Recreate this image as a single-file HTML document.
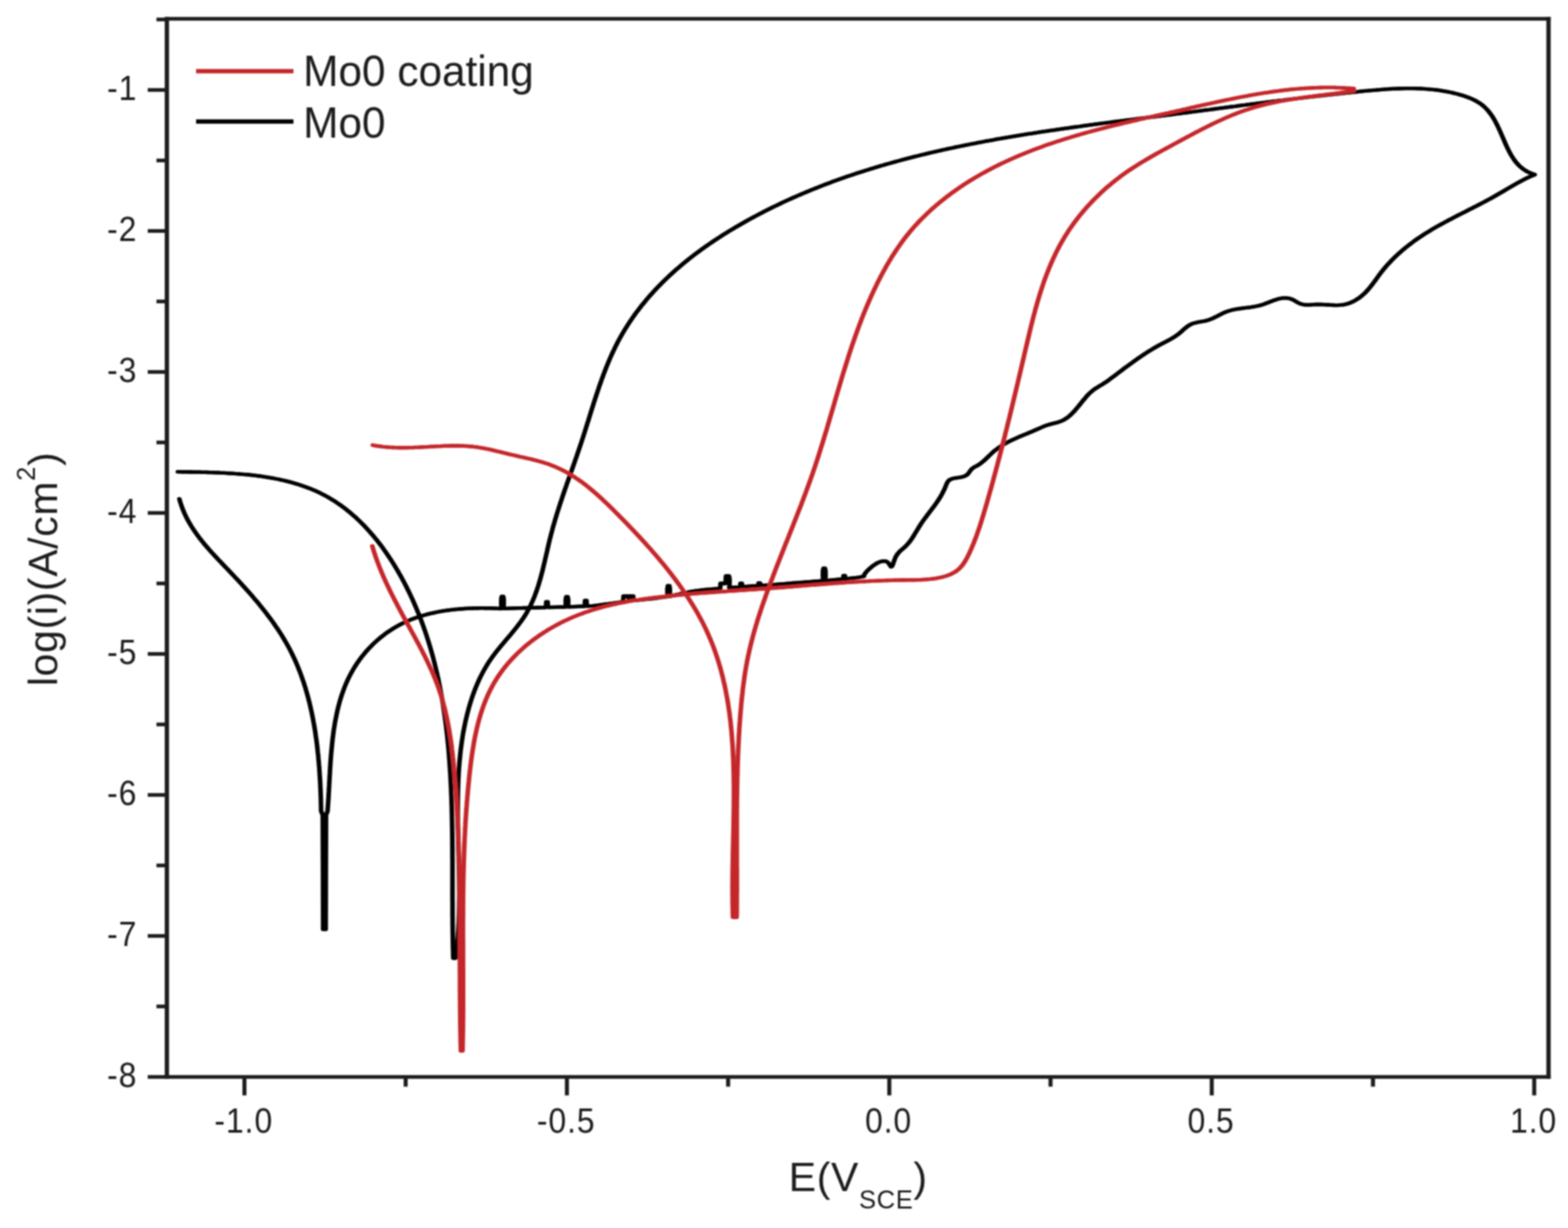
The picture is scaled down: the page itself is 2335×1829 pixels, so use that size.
<!DOCTYPE html>
<html><head><meta charset="utf-8"><title>Polarization curves</title>
<style>html,body{margin:0;padding:0;background:#fff;width:2335px;height:1829px;overflow:hidden}svg{display:block}</style>
</head><body>
<svg width="2335" height="1829" viewBox="0 0 2335 1829">
<style>
.tl{font-family:"Liberation Sans",Arial,sans-serif;font-size:51px;letter-spacing:1.5px;fill:#1a1a1a}
.lg{font-family:"Liberation Sans",Arial,sans-serif;font-size:64px;letter-spacing:0px;fill:#1a1a1a}
.at{font-family:"Liberation Sans",Arial,sans-serif;font-size:61px;fill:#1a1a1a}
</style>
<defs><filter id="soft" x="0" y="0" width="100%" height="100%" filterUnits="userSpaceOnUse"><feGaussianBlur stdDeviation="1"/></filter></defs>
<rect width="100%" height="100%" fill="#ffffff"/>
<g filter="url(#soft)">
<g fill="none" stroke="#000000" stroke-width="5.3" stroke-linejoin="round" stroke-linecap="round"><path id="c000000" transform="translate(-0.75 0)" d="M267.1 743.1 L267.9 746.1 L268.8 749.0 L269.8 751.9 L270.8 754.8 L271.8 757.6 L273.0 760.4 L274.1 763.2 L275.3 765.9 L276.6 768.6 L277.9 771.3 L279.3 773.9 L280.7 776.5 L282.2 779.1 L283.7 781.6 L285.2 784.1 L286.8 786.6 L288.4 789.1 L290.1 791.6 L291.8 794.0 L293.5 796.4 L295.3 798.8 L297.0 801.2 L298.9 803.5 L300.7 805.8 L302.6 808.2 L304.5 810.5 L306.4 812.7 L308.4 815.0 L310.3 817.3 L312.3 819.5 L314.3 821.8 L316.3 824.0 L318.4 826.2 L320.4 828.4 L322.5 830.6 L324.5 832.8 L326.6 835.0 L328.7 837.2 L330.8 839.4 L332.9 841.6 L335.0 843.8 L337.1 846.0 L339.2 848.2 L341.3 850.4 L343.4 852.6 L345.5 854.8 L347.6 857.0 L349.7 859.3 L351.8 861.5 L353.9 863.7 L355.9 865.9 L358.0 868.2 L360.1 870.4 L362.1 872.7 L364.2 874.9 L366.2 877.2 L368.2 879.4 L370.3 881.7 L372.3 884.0 L374.3 886.3 L376.3 888.6 L378.2 890.9 L380.2 893.2 L382.2 895.5 L384.1 897.8 L386.0 900.2 L387.9 902.5 L389.8 904.9 L391.7 907.2 L393.6 909.6 L395.5 912.0 L397.3 914.4 L399.1 916.8 L400.9 919.2 L402.7 921.6 L404.5 924.0 L406.3 926.5 L408.0 928.9 L409.7 931.4 L411.4 933.9 L413.1 936.3 L414.7 938.8 L416.4 941.3 L418.0 943.9 L419.6 946.4 L421.1 948.9 L422.7 951.5 L424.2 954.1 L425.7 956.6 L427.2 959.2 L428.6 961.8 L430.1 964.5 L431.5 967.1 L432.8 969.8 L434.2 972.4 L435.5 975.1 L436.8 977.8 L438.1 980.5 L439.3 983.2 L440.5 985.9 L441.7 988.7 L442.9 991.4 L444.0 994.2 L445.1 997.0 L446.2 999.8 L447.3 1002.6 L448.3 1005.4 L449.3 1008.2 L450.3 1011.0 L451.3 1013.9 L452.3 1016.7 L453.2 1019.6 L454.1 1022.5 L455.0 1025.3 L455.8 1028.2 L456.7 1031.1 L457.5 1034.0 L458.3 1037.0 L459.1 1039.9 L459.8 1042.8 L460.6 1045.8 L461.3 1048.7 L462.0 1051.6 L462.7 1054.6 L463.3 1057.6 L464.0 1060.5 L464.6 1063.5 L465.2 1066.5 L465.8 1069.5 L466.4 1072.5 L466.9 1075.5 L467.5 1078.5 L468.0 1081.5 L468.5 1084.5 L469.0 1087.5 L469.5 1090.5 L469.9 1093.5 L470.3 1096.6 L470.8 1099.6 L471.2 1102.6 L471.6 1105.6 L472.0 1108.7 L472.3 1111.7 L472.7 1114.7 L473.0 1117.8 L473.3 1120.8 L473.7 1123.9 L474.0 1126.9 L474.2 1129.9 L474.5 1133.0 L474.8 1136.0 L475.0 1139.0 L475.3 1142.1 L475.5 1145.1 L475.7 1148.1 L475.9 1151.2 L476.1 1154.2 L476.3 1157.2 L476.5 1160.2 L476.7 1163.2 L476.8 1166.3 L477.0 1169.3 L477.1 1172.3 L477.2 1175.3 L477.4 1178.3 L477.5 1181.3 L477.6 1184.3 L477.7 1187.3 L477.8 1190.2 L477.9 1193.2 L477.9 1196.2 L478.0 1199.1 L478.1 1202.1 L478.1 1205.1 L478.2 1208.0 L480.6 1214.0 L481.0 1300.0 L481.2 1384.0 L485.0 1384.0 L485.2 1300.0 L485.5 1214.0 L487.8 1208.0 L488.0 1205.2 L488.2 1202.3 L488.4 1199.4 L488.6 1196.5 L488.8 1193.6 L489.0 1190.7 L489.2 1187.8 L489.3 1184.8 L489.5 1181.9 L489.7 1178.9 L489.8 1175.9 L490.0 1172.9 L490.2 1169.9 L490.3 1166.9 L490.5 1163.9 L490.7 1160.8 L490.8 1157.8 L491.0 1154.8 L491.2 1151.7 L491.3 1148.6 L491.5 1145.6 L491.7 1142.5 L491.9 1139.4 L492.1 1136.3 L492.3 1133.2 L492.6 1130.1 L492.8 1127.1 L493.0 1124.0 L493.3 1120.9 L493.6 1117.8 L493.9 1114.7 L494.2 1111.6 L494.5 1108.5 L494.8 1105.4 L495.1 1102.3 L495.5 1099.2 L495.9 1096.1 L496.3 1093.1 L496.7 1090.0 L497.1 1086.9 L497.6 1083.9 L498.1 1080.8 L498.6 1077.8 L499.1 1074.8 L499.7 1071.7 L500.3 1068.7 L500.9 1065.7 L501.5 1062.7 L502.2 1059.7 L502.8 1056.8 L503.6 1053.8 L504.3 1050.9 L505.1 1047.9 L505.9 1045.0 L506.7 1042.1 L507.6 1039.2 L508.5 1036.4 L509.5 1033.5 L510.5 1030.7 L511.5 1027.9 L512.5 1025.1 L513.6 1022.3 L514.8 1019.5 L515.9 1016.8 L517.1 1014.1 L518.4 1011.4 L519.7 1008.7 L521.0 1006.1 L522.4 1003.5 L523.8 1000.9 L525.3 998.3 L526.8 995.7 L528.3 993.2 L529.9 990.7 L531.5 988.3 L533.2 985.8 L534.9 983.4 L536.6 981.0 L538.4 978.7 L540.2 976.4 L542.1 974.1 L544.0 971.8 L545.9 969.6 L547.9 967.4 L549.9 965.2 L552.0 963.1 L554.0 961.0 L556.1 958.9 L558.3 956.9 L560.5 954.9 L562.7 952.9 L564.9 951.0 L567.2 949.1 L569.5 947.3 L571.9 945.5 L574.2 943.7 L576.6 942.0 L579.1 940.3 L581.6 938.7 L584.1 937.1 L586.6 935.5 L589.1 934.0 L591.7 932.5 L594.3 931.1 L597.0 929.7 L599.6 928.4 L602.3 927.1 L605.1 925.8 L607.8 924.6 L610.6 923.4 L613.4 922.3 L616.2 921.2 L619.0 920.2 L621.9 919.2 L624.8 918.3 L627.7 917.4 L630.6 916.5 L633.6 915.7 L636.5 914.9 L639.5 914.1 L642.5 913.4 L645.5 912.8 L648.5 912.1 L651.5 911.5 L654.5 910.9 L657.6 910.4 L660.6 909.9 L663.7 909.4 L666.7 909.0 L669.8 908.6 L672.9 908.2 L675.9 907.9 L679.0 907.5 L682.1 907.3 L685.2 907.0 L688.3 906.8 L691.4 906.5 L694.4 906.4 L697.5 906.2 L700.6 906.1 L703.6 906.0 L706.7 905.9 L709.8 905.8 L712.8 905.8 L715.8 905.7 L718.9 905.7 L721.9 905.8 L724.9 905.8 L727.9 905.8 L730.9 905.9 L733.8 906.0 L736.8 906.1 L739.7 906.2 L742.6 906.4 L745.5 906.5 L746.7 906.4 L746.6 903.8 L746.4 898.0 L746.5 891.9 L747.2 888.5 L749.4 888.5 L750.1 891.9 L750.2 898.0 L750.0 903.8 L749.9 906.4 L751.1 906.4 L753.2 906.3 L758.0 906.1 L763.8 905.9 L767.0 905.8 L771.1 905.7 L775.9 905.6 L781.1 905.5 L786.5 905.3 L791.9 905.2 L797.0 905.1 L801.8 905.0 L805.8 904.9 L809.0 904.9 L811.1 904.8 L811.8 904.8 L812.9 904.7 L813.4 896.5 L815.6 896.5 L816.1 904.7 L817.0 904.6 L841.6 904.0 L842.7 903.9 L842.5 900.3 L842.4 893.5 L843.2 889.0 L845.4 889.0 L846.2 893.5 L846.1 900.3 L845.9 903.9 L847.0 903.8 L869.8 903.0 L870.7 902.9 L871.2 894.5 L873.4 894.5 L873.9 902.9 L874.8 902.8 L883.1 902.3 L887.1 901.9 L891.8 901.3 L896.9 900.7 L902.0 900.0 L906.9 899.3 L911.9 898.6 L917.5 897.8 L922.7 897.0 L926.5 896.4 L928.0 896.2 L928.5 888.0 L936.0 888.0 L936.5 894.5 L937.0 888.0 L943.0 888.0 L943.5 894.2 L945.1 894.1 L949.3 893.8 L955.0 893.3 L961.1 892.7 L966.5 892.2 L971.4 891.6 L977.2 890.8 L982.9 890.0 L988.0 889.3 L991.6 888.8 L993.0 888.6 L994.1 888.4 L993.9 884.6 L993.8 877.3 L994.6 872.5 L996.8 872.5 L997.6 877.3 L997.5 884.6 L997.3 888.4 L998.4 888.0 L999.4 887.8 L1002.1 887.1 L1006.1 886.1 L1011.0 885.0 L1016.6 883.7 L1022.2 882.5 L1027.7 881.4 L1032.6 880.5 L1036.8 879.9 L1041.6 879.3 L1046.8 878.7 L1052.1 878.2 L1057.3 877.7 L1062.1 877.3 L1066.3 877.0 L1069.6 876.7 L1071.7 876.6 L1072.5 876.5 L1073.0 869.0 L1080.5 869.0 L1081.0 858.0 L1085.5 858.0 L1086.4 861.6 L1086.5 867.5 L1086.2 873.0 L1086.0 875.5 L1101.2 874.3 L1102.1 874.1 L1102.6 869.0 L1104.8 869.0 L1105.3 874.1 L1106.2 873.9 L1128.2 872.3 L1129.1 872.1 L1129.6 868.5 L1131.8 868.5 L1132.3 872.1 L1133.2 871.9 L1135.3 871.8 L1140.2 871.6 L1146.4 871.2 L1149.2 871.0 L1152.6 870.8 L1156.5 870.5 L1160.8 870.1 L1165.4 869.8 L1170.2 869.4 L1175.3 869.0 L1180.4 868.5 L1185.5 868.1 L1190.6 867.7 L1195.5 867.3 L1200.2 866.9 L1204.5 866.6 L1208.5 866.3 L1212.1 866.0 L1215.0 865.8 L1217.4 865.6 L1224.6 865.2 L1225.8 865.1 L1225.6 862.4 L1225.4 856.4 L1225.5 850.1 L1226.3 846.5 L1228.5 846.5 L1229.3 850.1 L1229.4 856.4 L1229.2 862.4 L1229.0 865.1 L1230.2 864.9 L1254.7 862.5 L1255.6 862.3 L1256.1 857.5 L1258.3 857.5 L1258.8 862.3 L1259.7 862.0 L1262.5 861.8 L1268.4 861.2 L1274.3 860.6 L1279.4 859.8 L1284.4 858.9 L1286.6 858.5 L1286.6 857.0 L1287.3 855.5 L1288.5 853.7 L1290.3 851.5 L1292.6 849.1 L1295.2 846.7 L1298.1 844.2 L1301.2 841.9 L1304.5 839.7 L1307.8 837.9 L1311.0 836.6 L1314.2 835.8 L1317.1 835.6 L1319.8 836.1 L1322.1 837.6 L1324.0 839.9 L1325.5 842.4 L1326.8 844.0 L1327.9 843.9 L1329.0 842.2 L1330.1 839.4 L1331.3 835.9 L1332.6 832.3 L1334.1 828.9 L1335.9 826.0 L1337.9 823.5 L1339.9 821.3 L1342.1 819.3 L1344.3 817.4 L1346.5 815.5 L1348.6 813.6 L1350.6 811.5 L1352.6 809.3 L1354.4 807.1 L1356.2 804.7 L1357.9 802.2 L1359.5 799.7 L1361.1 797.2 L1362.7 794.5 L1364.3 791.9 L1365.9 789.3 L1367.5 786.6 L1369.1 784.0 L1370.7 781.5 L1372.4 778.9 L1374.1 776.4 L1375.9 774.0 L1377.7 771.5 L1379.5 769.1 L1381.3 766.7 L1383.1 764.3 L1384.9 761.9 L1386.7 759.6 L1388.5 757.2 L1390.3 754.8 L1392.1 752.4 L1393.8 750.0 L1395.5 747.5 L1397.2 745.1 L1398.8 742.5 L1400.4 740.0 L1401.9 737.4 L1403.3 734.8 L1404.7 732.0 L1406.1 729.3 L1407.3 726.4 L1408.5 723.5 L1409.6 720.7 L1411.0 718.0 L1412.7 715.8 L1415.0 714.2 L1417.7 713.1 L1420.7 712.3 L1423.9 711.8 L1427.2 711.3 L1430.4 710.8 L1433.5 710.2 L1436.4 709.2 L1439.0 707.9 L1441.2 706.1 L1443.0 703.8 L1444.8 701.3 L1446.6 698.9 L1448.9 696.9 L1451.4 695.4 L1454.1 694.1 L1456.8 692.6 L1459.3 691.0 L1461.6 689.2 L1463.9 687.3 L1466.2 685.4 L1468.3 683.3 L1470.5 681.3 L1472.6 679.2 L1474.8 677.1 L1476.9 675.0 L1479.2 673.0 L1481.4 671.1 L1483.8 669.3 L1486.2 667.5 L1488.6 665.8 L1491.1 664.2 L1493.7 662.6 L1496.2 661.1 L1498.8 659.6 L1501.5 658.2 L1504.1 656.9 L1506.8 655.5 L1509.5 654.3 L1512.2 653.1 L1514.9 651.9 L1517.6 650.7 L1520.4 649.5 L1523.1 648.4 L1525.9 647.3 L1528.7 646.1 L1531.4 645.0 L1534.2 643.8 L1537.0 642.7 L1539.7 641.5 L1542.5 640.2 L1545.3 639.0 L1548.0 637.8 L1550.8 636.6 L1553.6 635.4 L1556.4 634.3 L1559.3 633.3 L1562.1 632.4 L1565.0 631.6 L1568.0 630.8 L1570.9 630.1 L1573.8 629.4 L1576.6 628.5 L1579.4 627.6 L1582.1 626.4 L1584.7 625.1 L1587.2 623.5 L1589.6 621.8 L1592.0 620.0 L1594.2 618.0 L1596.4 615.9 L1598.6 613.7 L1600.7 611.4 L1602.7 609.0 L1604.7 606.6 L1606.7 604.2 L1608.7 601.8 L1610.6 599.4 L1612.5 597.0 L1614.4 594.7 L1616.4 592.4 L1618.3 590.1 L1620.3 587.9 L1622.4 585.9 L1624.6 583.9 L1626.8 582.0 L1629.2 580.2 L1631.6 578.5 L1634.2 576.9 L1636.7 575.3 L1639.4 573.8 L1642.0 572.2 L1644.5 570.6 L1647.0 569.0 L1649.5 567.3 L1651.9 565.5 L1654.3 563.7 L1656.7 561.9 L1659.1 560.1 L1661.5 558.3 L1663.9 556.5 L1666.3 554.7 L1668.7 552.9 L1671.1 551.1 L1673.5 549.2 L1675.9 547.4 L1678.4 545.6 L1680.8 543.8 L1683.2 542.1 L1685.7 540.3 L1688.1 538.5 L1690.6 536.8 L1693.0 535.0 L1695.5 533.3 L1698.0 531.6 L1700.5 529.9 L1703.0 528.2 L1705.5 526.6 L1708.0 524.9 L1710.6 523.3 L1713.1 521.7 L1715.7 520.2 L1718.3 518.6 L1720.9 517.1 L1723.5 515.6 L1726.1 514.2 L1728.8 512.7 L1731.4 511.3 L1734.1 510.0 L1736.8 508.6 L1739.5 507.2 L1742.1 505.8 L1744.7 504.3 L1747.3 502.7 L1749.9 501.1 L1752.3 499.4 L1754.8 497.6 L1757.1 495.7 L1759.4 493.7 L1761.7 491.6 L1764.0 489.6 L1766.3 487.7 L1768.6 485.9 L1771.1 484.3 L1773.7 482.9 L1776.4 481.8 L1779.2 481.0 L1782.1 480.3 L1785.0 479.7 L1788.0 479.2 L1791.0 478.7 L1794.0 478.1 L1797.0 477.4 L1799.9 476.5 L1802.7 475.5 L1805.5 474.3 L1808.3 473.0 L1811.0 471.7 L1813.7 470.3 L1816.4 468.9 L1819.1 467.5 L1821.8 466.2 L1824.5 465.0 L1827.3 463.9 L1830.1 463.0 L1832.9 462.2 L1835.7 461.5 L1838.6 460.9 L1841.5 460.3 L1844.4 459.9 L1847.4 459.5 L1850.3 459.1 L1853.3 458.7 L1856.3 458.3 L1859.2 458.0 L1862.2 457.6 L1865.2 457.1 L1868.2 456.6 L1871.2 456.0 L1874.2 455.4 L1877.1 454.6 L1880.1 453.7 L1883.0 452.7 L1885.9 451.6 L1888.9 450.5 L1891.8 449.3 L1894.7 448.2 L1897.6 447.1 L1900.5 446.2 L1903.4 445.3 L1906.2 444.6 L1909.1 444.1 L1912.0 443.8 L1914.9 443.8 L1917.8 444.1 L1920.7 444.7 L1923.6 445.6 L1926.5 447.0 L1929.4 448.7 L1932.3 450.5 L1935.3 452.0 L1938.2 453.0 L1941.1 453.7 L1944.1 454.0 L1947.0 454.1 L1949.9 454.1 L1952.9 453.9 L1955.8 453.7 L1958.8 453.5 L1961.8 453.5 L1964.8 453.5 L1967.8 453.5 L1970.8 453.7 L1973.8 453.9 L1976.9 454.0 L1979.9 454.2 L1982.9 454.4 L1985.9 454.5 L1988.9 454.6 L1991.9 454.6 L1994.9 454.4 L1997.8 454.2 L2000.8 453.8 L2003.7 453.2 L2006.6 452.4 L2009.5 451.5 L2012.3 450.3 L2015.1 449.0 L2017.8 447.6 L2020.4 446.0 L2023.0 444.3 L2025.5 442.5 L2027.9 440.6 L2030.2 438.6 L2032.4 436.6 L2034.5 434.4 L2036.6 432.2 L2038.5 429.9 L2040.4 427.6 L2042.3 425.3 L2044.1 422.9 L2045.9 420.5 L2047.7 418.1 L2049.4 415.7 L2051.2 413.2 L2052.9 410.8 L2054.7 408.4 L2056.5 406.0 L2058.4 403.6 L2060.3 401.3 L2062.2 399.0 L2064.1 396.7 L2066.1 394.5 L2068.1 392.3 L2070.2 390.1 L2072.2 387.9 L2074.3 385.8 L2076.5 383.7 L2078.6 381.6 L2080.8 379.6 L2083.0 377.5 L2085.3 375.6 L2087.5 373.6 L2089.8 371.6 L2092.1 369.7 L2094.4 367.8 L2096.8 366.0 L2099.2 364.1 L2101.6 362.3 L2104.0 360.5 L2106.4 358.7 L2108.8 357.0 L2111.3 355.3 L2113.8 353.6 L2116.3 351.9 L2118.8 350.3 L2121.3 348.6 L2123.9 347.0 L2126.4 345.5 L2129.0 343.9 L2131.5 342.3 L2134.1 340.8 L2136.7 339.3 L2139.3 337.8 L2142.0 336.3 L2144.6 334.9 L2147.2 333.4 L2149.9 332.0 L2152.5 330.5 L2155.2 329.1 L2157.8 327.7 L2160.5 326.3 L2163.2 324.9 L2165.8 323.5 L2168.5 322.1 L2171.2 320.7 L2173.9 319.4 L2176.6 318.0 L2179.3 316.6 L2182.0 315.3 L2184.7 313.9 L2187.3 312.5 L2190.0 311.2 L2192.7 309.8 L2195.4 308.4 L2198.1 307.1 L2200.8 305.7 L2203.5 304.3 L2206.1 302.9 L2208.8 301.5 L2211.5 300.1 L2214.1 298.7 L2216.8 297.2 L2219.4 295.8 L2222.1 294.4 L2224.7 292.9 L2227.3 291.4 L2229.9 289.9 L2232.5 288.4 L2235.1 286.9 L2237.7 285.4 L2240.3 283.9 L2242.9 282.3 L2245.5 280.8 L2248.1 279.3 L2250.7 277.8 L2253.3 276.3 L2255.9 274.8 L2258.5 273.3 L2261.1 271.8 L2263.8 270.4 L2266.4 269.0 L2269.1 267.6 L2271.8 266.2 L2274.5 264.9 L2277.2 263.6 L2279.9 262.4 L2282.7 261.2 L2285.5 260.0 L2282.3 259.0 L2279.2 257.8 L2276.4 256.6 L2273.6 255.1 L2271.0 253.6 L2268.5 251.9 L2266.2 250.1 L2264.0 248.3 L2261.9 246.3 L2259.9 244.2 L2258.0 242.0 L2256.1 239.7 L2254.4 237.4 L2252.8 234.9 L2251.2 232.4 L2249.7 229.9 L2248.3 227.3 L2246.9 224.6 L2245.5 221.9 L2244.2 219.2 L2242.9 216.4 L2241.7 213.6 L2240.4 210.7 L2239.2 207.9 L2238.0 205.0 L2236.8 202.2 L2235.5 199.3 L2234.3 196.5 L2233.0 193.7 L2231.7 190.8 L2230.4 188.1 L2229.0 185.3 L2227.6 182.6 L2226.2 179.9 L2224.7 177.3 L2223.1 174.7 L2221.5 172.2 L2219.8 169.8 L2218.0 167.5 L2216.2 165.2 L2214.3 163.0 L2212.3 161.0 L2210.3 159.0 L2208.1 157.1 L2205.9 155.4 L2203.5 153.7 L2201.1 152.2 L2198.6 150.7 L2196.1 149.4 L2193.5 148.1 L2190.8 146.9 L2188.1 145.8 L2185.3 144.7 L2182.6 143.7 L2179.8 142.8 L2176.9 141.9 L2174.1 141.1 L2171.3 140.3 L2168.4 139.5 L2165.5 138.8 L2162.7 138.1 L2159.8 137.5 L2156.9 136.9 L2154.0 136.3 L2151.1 135.8 L2148.1 135.3 L2145.2 134.8 L2142.3 134.4 L2139.3 134.0 L2136.4 133.7 L2133.4 133.3 L2130.4 133.1 L2127.5 132.8 L2124.5 132.6 L2121.5 132.3 L2118.5 132.2 L2115.5 132.0 L2112.5 131.9 L2109.5 131.8 L2106.5 131.7 L2103.5 131.7 L2100.4 131.7 L2097.4 131.7 L2094.4 131.7 L2091.4 131.7 L2088.3 131.8 L2085.3 131.9 L2082.2 132.0 L2079.2 132.1 L2076.1 132.2 L2073.1 132.4 L2070.0 132.5 L2067.0 132.7 L2063.9 132.9 L2060.9 133.1 L2057.8 133.3 L2054.8 133.6 L2051.7 133.8 L2048.7 134.1 L2045.6 134.3 L2042.6 134.6 L2039.5 134.9 L2036.5 135.2 L2033.4 135.4 L2030.4 135.7 L2027.3 136.0 L2024.3 136.3 L2021.2 136.7 L2018.2 137.0 L2015.2 137.3 L2012.1 137.6 L2009.1 137.9 L2006.1 138.2 L2003.0 138.5 L2000.0 138.9 L1997.0 139.2 L1994.0 139.5 L1991.0 139.8 L1988.0 140.2 L1985.0 140.5 L1982.0 140.8 L1978.9 141.2 L1975.9 141.5 L1972.9 141.8 L1970.0 142.2 L1967.0 142.5 L1964.0 142.9 L1961.0 143.2 L1958.0 143.6 L1955.0 143.9 L1952.0 144.2 L1949.0 144.6 L1946.0 144.9 L1943.1 145.3 L1940.1 145.7 L1937.1 146.0 L1934.1 146.4 L1931.2 146.7 L1928.2 147.1 L1925.2 147.4 L1922.3 147.8 L1919.3 148.2 L1916.3 148.5 L1913.4 148.9 L1910.4 149.3 L1907.4 149.6 L1904.5 150.0 L1901.5 150.4 L1898.6 150.7 L1895.6 151.1 L1892.6 151.5 L1889.7 151.8 L1886.7 152.2 L1883.8 152.6 L1880.8 153.0 L1877.9 153.3 L1874.9 153.7 L1872.0 154.1 L1869.0 154.5 L1866.1 154.8 L1863.1 155.2 L1860.2 155.6 L1857.2 156.0 L1854.3 156.4 L1851.3 156.7 L1848.4 157.1 L1845.5 157.5 L1842.5 157.9 L1839.6 158.3 L1836.6 158.6 L1833.7 159.0 L1830.7 159.4 L1827.8 159.8 L1824.8 160.2 L1821.9 160.6 L1818.9 160.9 L1816.0 161.3 L1813.1 161.7 L1810.1 162.1 L1807.2 162.5 L1804.2 162.9 L1801.3 163.3 L1798.3 163.6 L1795.4 164.0 L1792.4 164.4 L1789.5 164.8 L1786.5 165.2 L1783.6 165.6 L1780.6 165.9 L1777.7 166.3 L1774.7 166.7 L1771.8 167.1 L1768.8 167.5 L1765.8 167.8 L1762.9 168.2 L1759.9 168.6 L1757.0 169.0 L1754.0 169.4 L1751.0 169.7 L1748.1 170.1 L1745.1 170.5 L1742.2 170.9 L1739.2 171.3 L1736.2 171.6 L1733.2 172.0 L1730.3 172.4 L1727.3 172.8 L1724.3 173.1 L1721.4 173.5 L1718.4 173.9 L1715.4 174.3 L1712.4 174.7 L1709.5 175.0 L1706.5 175.4 L1703.5 175.8 L1700.5 176.2 L1697.5 176.5 L1694.6 176.9 L1691.6 177.3 L1688.6 177.7 L1685.6 178.1 L1682.6 178.4 L1679.6 178.8 L1676.7 179.2 L1673.7 179.6 L1670.7 180.0 L1667.7 180.3 L1664.7 180.7 L1661.7 181.1 L1658.7 181.5 L1655.7 181.9 L1652.8 182.3 L1649.8 182.7 L1646.8 183.1 L1643.8 183.4 L1640.8 183.8 L1637.8 184.2 L1634.8 184.6 L1631.8 185.0 L1628.8 185.4 L1625.8 185.8 L1622.8 186.2 L1619.8 186.6 L1616.9 187.0 L1613.9 187.4 L1610.9 187.8 L1607.9 188.3 L1604.9 188.7 L1601.9 189.1 L1598.9 189.5 L1595.9 189.9 L1592.9 190.3 L1589.9 190.8 L1586.9 191.2 L1583.9 191.6 L1580.9 192.0 L1577.9 192.5 L1574.9 192.9 L1572.0 193.3 L1569.0 193.8 L1566.0 194.2 L1563.0 194.6 L1560.0 195.1 L1557.0 195.5 L1554.0 196.0 L1551.0 196.4 L1548.0 196.9 L1545.0 197.4 L1542.0 197.8 L1539.1 198.3 L1536.1 198.8 L1533.1 199.2 L1530.1 199.7 L1527.1 200.2 L1524.1 200.7 L1521.1 201.1 L1518.2 201.6 L1515.2 202.1 L1512.2 202.6 L1509.2 203.1 L1506.2 203.6 L1503.3 204.1 L1500.3 204.6 L1497.3 205.1 L1494.3 205.6 L1491.3 206.2 L1488.4 206.7 L1485.4 207.2 L1482.4 207.7 L1479.4 208.3 L1476.5 208.8 L1473.5 209.4 L1470.5 209.9 L1467.6 210.4 L1464.6 211.0 L1461.6 211.6 L1458.7 212.1 L1455.7 212.7 L1452.7 213.3 L1449.8 213.8 L1446.8 214.4 L1443.9 215.0 L1440.9 215.6 L1437.9 216.2 L1435.0 216.8 L1432.0 217.4 L1429.1 218.0 L1426.1 218.6 L1423.2 219.2 L1420.2 219.9 L1417.3 220.5 L1414.3 221.1 L1411.4 221.7 L1408.5 222.4 L1405.5 223.0 L1402.6 223.7 L1399.6 224.4 L1396.7 225.0 L1393.8 225.7 L1390.8 226.4 L1387.9 227.0 L1385.0 227.7 L1382.1 228.4 L1379.1 229.1 L1376.2 229.8 L1373.3 230.5 L1370.4 231.2 L1367.5 232.0 L1364.5 232.7 L1361.6 233.4 L1358.7 234.1 L1355.8 234.9 L1352.9 235.6 L1350.0 236.4 L1347.1 237.2 L1344.2 237.9 L1341.3 238.7 L1338.4 239.5 L1335.5 240.3 L1332.6 241.1 L1329.7 241.9 L1326.8 242.7 L1324.0 243.5 L1321.1 244.3 L1318.2 245.1 L1315.3 246.0 L1312.4 246.8 L1309.6 247.6 L1306.7 248.5 L1303.8 249.4 L1301.0 250.2 L1298.1 251.1 L1295.2 252.0 L1292.4 252.9 L1289.5 253.8 L1286.7 254.7 L1283.8 255.6 L1281.0 256.5 L1278.1 257.4 L1275.3 258.3 L1272.5 259.3 L1269.6 260.2 L1266.8 261.2 L1264.0 262.1 L1261.1 263.1 L1258.3 264.1 L1255.5 265.1 L1252.7 266.1 L1249.9 267.1 L1247.1 268.1 L1244.2 269.1 L1241.4 270.1 L1238.6 271.1 L1235.8 272.2 L1233.0 273.2 L1230.2 274.3 L1227.5 275.3 L1224.7 276.4 L1221.9 277.5 L1219.1 278.6 L1216.3 279.7 L1213.6 280.8 L1210.8 281.9 L1208.0 283.0 L1205.3 284.2 L1202.5 285.3 L1199.7 286.5 L1197.0 287.6 L1194.2 288.8 L1191.5 290.0 L1188.7 291.1 L1186.0 292.3 L1183.3 293.5 L1180.5 294.7 L1177.8 296.0 L1175.1 297.2 L1172.4 298.4 L1169.6 299.7 L1166.9 300.9 L1164.2 302.2 L1161.5 303.5 L1158.8 304.8 L1156.1 306.1 L1153.4 307.4 L1150.7 308.7 L1148.0 310.0 L1145.3 311.3 L1142.7 312.7 L1140.0 314.0 L1137.3 315.4 L1134.7 316.8 L1132.0 318.2 L1129.3 319.6 L1126.7 321.0 L1124.0 322.4 L1121.4 323.8 L1118.7 325.2 L1116.1 326.7 L1113.5 328.1 L1110.8 329.6 L1108.2 331.1 L1105.6 332.6 L1103.0 334.1 L1100.4 335.6 L1097.8 337.1 L1095.2 338.6 L1092.6 340.2 L1090.0 341.7 L1087.4 343.3 L1084.8 344.8 L1082.3 346.4 L1079.7 348.0 L1077.2 349.6 L1074.6 351.2 L1072.1 352.9 L1069.5 354.5 L1067.0 356.2 L1064.5 357.8 L1062.0 359.5 L1059.5 361.2 L1057.0 362.9 L1054.6 364.6 L1052.1 366.3 L1049.6 368.0 L1047.2 369.8 L1044.7 371.5 L1042.3 373.3 L1039.9 375.1 L1037.5 376.9 L1035.1 378.7 L1032.7 380.5 L1030.3 382.3 L1028.0 384.2 L1025.6 386.0 L1023.3 387.9 L1021.0 389.8 L1018.6 391.7 L1016.3 393.6 L1014.0 395.5 L1011.8 397.4 L1009.5 399.4 L1007.2 401.3 L1005.0 403.3 L1002.8 405.3 L1000.6 407.3 L998.4 409.3 L996.2 411.3 L994.0 413.4 L991.9 415.4 L989.7 417.5 L987.6 419.6 L985.5 421.7 L983.4 423.8 L981.3 425.9 L979.3 428.0 L977.2 430.2 L975.2 432.3 L973.2 434.5 L971.2 436.7 L969.2 438.9 L967.2 441.1 L965.3 443.4 L963.4 445.6 L961.5 447.9 L959.6 450.2 L957.7 452.4 L955.8 454.7 L954.0 457.1 L952.2 459.4 L950.4 461.8 L948.6 464.1 L946.8 466.5 L945.1 468.9 L943.4 471.3 L941.7 473.7 L940.0 476.2 L938.3 478.6 L936.7 481.1 L935.1 483.6 L933.5 486.1 L931.9 488.6 L930.3 491.1 L928.8 493.7 L927.3 496.3 L925.8 498.8 L924.3 501.4 L922.9 504.0 L921.4 506.7 L920.0 509.3 L918.7 512.0 L917.3 514.7 L916.0 517.4 L914.7 520.1 L913.4 522.8 L912.1 525.5 L910.8 528.3 L909.6 531.0 L908.4 533.8 L907.2 536.6 L906.0 539.4 L904.9 542.2 L903.7 545.0 L902.6 547.8 L901.5 550.7 L900.4 553.5 L899.3 556.4 L898.2 559.3 L897.2 562.1 L896.1 565.0 L895.1 567.9 L894.1 570.8 L893.0 573.7 L892.0 576.6 L891.1 579.5 L890.1 582.4 L889.1 585.3 L888.1 588.3 L887.2 591.2 L886.2 594.1 L885.3 597.0 L884.3 600.0 L883.4 602.9 L882.5 605.8 L881.5 608.8 L880.6 611.7 L879.7 614.6 L878.8 617.6 L877.9 620.5 L877.0 623.4 L876.1 626.4 L875.1 629.3 L874.2 632.2 L873.3 635.1 L872.4 638.0 L871.5 640.9 L870.6 643.8 L869.6 646.7 L868.7 649.6 L867.8 652.5 L866.8 655.4 L865.9 658.3 L864.9 661.1 L864.0 664.0 L863.0 666.8 L862.1 669.7 L861.1 672.5 L860.1 675.3 L859.2 678.1 L858.2 681.0 L857.2 683.8 L856.2 686.6 L855.3 689.4 L854.3 692.2 L853.3 695.0 L852.3 697.8 L851.3 700.6 L850.3 703.3 L849.3 706.1 L848.4 708.9 L847.4 711.7 L846.4 714.5 L845.4 717.3 L844.4 720.0 L843.5 722.8 L842.5 725.6 L841.5 728.4 L840.6 731.2 L839.6 734.0 L838.7 736.7 L837.7 739.5 L836.8 742.3 L835.9 745.1 L834.9 747.9 L834.0 750.7 L833.1 753.5 L832.2 756.4 L831.3 759.2 L830.4 762.0 L829.5 764.8 L828.6 767.7 L827.8 770.5 L826.9 773.4 L826.1 776.2 L825.3 779.1 L824.4 781.9 L823.6 784.8 L822.8 787.7 L822.1 790.6 L821.3 793.5 L820.5 796.4 L819.8 799.4 L819.0 802.3 L818.3 805.2 L817.6 808.2 L816.9 811.2 L816.2 814.1 L815.5 817.1 L814.9 820.1 L814.2 823.1 L813.5 826.0 L812.8 829.0 L812.1 832.0 L811.4 835.0 L810.7 838.0 L810.0 841.0 L809.3 843.9 L808.6 846.9 L807.9 849.9 L807.1 852.8 L806.3 855.8 L805.5 858.7 L804.7 861.7 L803.9 864.6 L803.0 867.5 L802.2 870.4 L801.3 873.3 L800.3 876.1 L799.4 879.0 L798.4 881.8 L797.3 884.6 L796.3 887.4 L795.2 890.2 L794.0 893.0 L792.9 895.7 L791.6 898.4 L790.4 901.1 L789.1 903.8 L787.7 906.4 L786.3 909.0 L784.9 911.6 L783.4 914.2 L781.8 916.7 L780.2 919.2 L778.5 921.7 L776.8 924.1 L775.1 926.5 L773.3 928.9 L771.5 931.3 L769.7 933.7 L767.8 936.1 L765.9 938.4 L764.0 940.7 L762.1 943.1 L760.2 945.4 L758.2 947.7 L756.3 950.0 L754.3 952.3 L752.4 954.6 L750.4 956.9 L748.5 959.2 L746.5 961.5 L744.6 963.9 L742.7 966.2 L740.8 968.5 L738.9 970.9 L737.1 973.3 L735.3 975.7 L733.5 978.1 L731.8 980.5 L730.1 983.0 L728.4 985.4 L726.8 987.9 L725.2 990.5 L723.7 993.0 L722.2 995.6 L720.7 998.2 L719.3 1000.8 L717.9 1003.4 L716.5 1006.1 L715.2 1008.7 L713.9 1011.4 L712.7 1014.1 L711.5 1016.8 L710.3 1019.5 L709.2 1022.3 L708.0 1025.0 L707.0 1027.8 L705.9 1030.6 L704.9 1033.4 L703.9 1036.2 L702.9 1039.0 L702.0 1041.8 L701.1 1044.7 L700.2 1047.5 L699.4 1050.4 L698.5 1053.2 L697.7 1056.1 L697.0 1059.0 L696.2 1061.8 L695.5 1064.7 L694.8 1067.6 L694.1 1070.5 L693.4 1073.4 L692.8 1076.3 L692.2 1079.2 L691.6 1082.1 L691.0 1085.0 L690.5 1087.9 L689.9 1090.8 L689.4 1093.8 L688.9 1096.7 L688.5 1099.6 L688.0 1102.6 L687.6 1105.5 L687.2 1108.5 L686.8 1111.4 L686.4 1114.4 L686.0 1117.3 L685.7 1120.3 L685.4 1123.3 L685.1 1126.2 L684.8 1129.2 L684.5 1132.2 L684.2 1135.1 L684.0 1138.1 L683.7 1141.1 L683.5 1144.1 L683.3 1147.1 L683.1 1150.1 L683.0 1153.1 L682.8 1156.1 L682.6 1159.1 L682.5 1162.1 L682.4 1165.1 L682.3 1168.1 L682.2 1171.1 L682.1 1174.1 L682.0 1177.1 L681.9 1180.1 L681.9 1183.1 L681.8 1186.2 L681.8 1189.2 L681.7 1192.2 L681.7 1195.2 L681.7 1198.2 L681.7 1201.3 L681.7 1204.3 L681.7 1207.3 L681.7 1210.4 L681.7 1213.4 L681.8 1216.4 L681.8 1219.5 L681.8 1222.5 L681.9 1225.5 L681.9 1228.6 L682.0 1231.6 L682.0 1234.6 L682.1 1237.7 L682.2 1240.7 L682.2 1243.8 L682.3 1246.8 L682.4 1249.8 L682.4 1252.9 L682.5 1255.9 L682.6 1259.0 L682.7 1262.0 L682.7 1265.0 L682.8 1268.1 L682.9 1271.1 L683.0 1274.2 L683.1 1277.2 L683.1 1280.2 L683.2 1283.3 L683.3 1286.3 L683.4 1289.3 L683.4 1292.4 L683.5 1295.4 L683.6 1298.4 L683.6 1301.5 L683.7 1304.5 L683.7 1307.5 L683.8 1310.6 L683.8 1313.6 L683.9 1316.6 L683.9 1319.7 L683.9 1322.7 L683.9 1325.7 L684.0 1328.7 L684.0 1331.7 L684.0 1334.8 L684.0 1337.8 L683.9 1340.8 L683.9 1343.8 L683.9 1346.8 L683.8 1349.8 L683.8 1352.8 L683.7 1355.8 L683.7 1358.8 L683.6 1361.8 L683.5 1364.8 L683.4 1367.8 L683.3 1370.8 L683.2 1373.8 L683.0 1376.8 L682.9 1379.8 L682.7 1382.7 L682.5 1385.7 L682.3 1388.7 L682.1 1391.7 L681.9 1394.6 L681.7 1397.6 L681.4 1400.5 L681.2 1403.5 L680.9 1406.4 L680.6 1409.4 L680.3 1412.3 L680.0 1415.3 L679.6 1418.2 L679.3 1421.1 L678.9 1424.1 L678.5 1427.0 L675.0 1427.0 L674.9 1424.1 L674.8 1421.1 L674.8 1418.2 L674.7 1415.2 L674.6 1412.3 L674.5 1409.3 L674.5 1406.4 L674.4 1403.4 L674.4 1400.4 L674.3 1397.5 L674.3 1394.5 L674.2 1391.5 L674.2 1388.6 L674.1 1385.6 L674.1 1382.6 L674.1 1379.6 L674.0 1376.6 L674.0 1373.7 L674.0 1370.7 L674.0 1367.7 L673.9 1364.7 L673.9 1361.7 L673.9 1358.7 L673.9 1355.7 L673.9 1352.7 L673.9 1349.7 L673.9 1346.7 L673.9 1343.7 L673.8 1340.7 L673.8 1337.7 L673.8 1334.7 L673.8 1331.7 L673.8 1328.7 L673.8 1325.6 L673.8 1322.6 L673.8 1319.6 L673.8 1316.6 L673.8 1313.6 L673.8 1310.6 L673.8 1307.5 L673.8 1304.5 L673.8 1301.5 L673.8 1298.5 L673.8 1295.4 L673.8 1292.4 L673.8 1289.4 L673.8 1286.3 L673.8 1283.3 L673.8 1280.3 L673.7 1277.3 L673.7 1274.2 L673.7 1271.2 L673.7 1268.2 L673.7 1265.1 L673.7 1262.1 L673.6 1259.1 L673.6 1256.0 L673.6 1253.0 L673.6 1249.9 L673.5 1246.9 L673.5 1243.9 L673.5 1240.8 L673.4 1237.8 L673.4 1234.8 L673.3 1231.7 L673.3 1228.7 L673.2 1225.6 L673.2 1222.6 L673.1 1219.6 L673.0 1216.5 L673.0 1213.5 L672.9 1210.5 L672.8 1207.4 L672.8 1204.4 L672.7 1201.3 L672.6 1198.3 L672.5 1195.3 L672.4 1192.2 L672.3 1189.2 L672.2 1186.2 L672.0 1183.1 L671.9 1180.1 L671.8 1177.1 L671.7 1174.0 L671.5 1171.0 L671.4 1168.0 L671.2 1164.9 L671.1 1161.9 L670.9 1158.9 L670.8 1155.9 L670.6 1152.8 L670.4 1149.8 L670.2 1146.8 L670.0 1143.8 L669.8 1140.7 L669.6 1137.7 L669.4 1134.7 L669.2 1131.7 L668.9 1128.7 L668.7 1125.7 L668.5 1122.7 L668.2 1119.6 L668.0 1116.6 L667.7 1113.6 L667.4 1110.6 L667.1 1107.6 L666.8 1104.6 L666.5 1101.6 L666.2 1098.6 L665.9 1095.6 L665.6 1092.6 L665.2 1089.6 L664.9 1086.6 L664.5 1083.6 L664.2 1080.7 L663.8 1077.7 L663.4 1074.7 L663.0 1071.7 L662.6 1068.7 L662.2 1065.8 L661.8 1062.8 L661.3 1059.8 L660.9 1056.8 L660.4 1053.9 L660.0 1050.9 L659.5 1048.0 L659.0 1045.0 L658.5 1042.0 L658.0 1039.1 L657.5 1036.1 L656.9 1033.2 L656.4 1030.2 L655.8 1027.3 L655.3 1024.4 L654.7 1021.4 L654.1 1018.5 L653.5 1015.6 L652.9 1012.6 L652.3 1009.7 L651.6 1006.8 L651.0 1003.9 L650.3 1001.0 L649.6 998.1 L648.9 995.2 L648.2 992.3 L647.5 989.4 L646.8 986.5 L646.0 983.6 L645.3 980.7 L644.5 977.8 L643.7 974.9 L642.9 972.0 L642.1 969.2 L641.3 966.3 L640.4 963.4 L639.6 960.6 L638.7 957.7 L637.8 954.8 L636.9 952.0 L636.0 949.2 L635.1 946.3 L634.1 943.5 L633.2 940.6 L632.2 937.8 L631.2 935.0 L630.2 932.2 L629.2 929.3 L628.1 926.5 L627.1 923.7 L626.0 920.9 L624.9 918.1 L623.8 915.3 L622.7 912.5 L621.5 909.8 L620.4 907.0 L619.2 904.2 L618.0 901.4 L616.8 898.7 L615.6 895.9 L614.4 893.2 L613.1 890.4 L611.8 887.7 L610.5 884.9 L609.2 882.2 L607.9 879.5 L606.5 876.7 L605.2 874.0 L603.8 871.3 L602.4 868.6 L601.0 865.9 L599.5 863.2 L598.1 860.6 L596.6 857.9 L595.1 855.2 L593.6 852.6 L592.1 849.9 L590.5 847.3 L588.9 844.7 L587.4 842.1 L585.8 839.5 L584.1 836.9 L582.5 834.3 L580.8 831.8 L579.1 829.2 L577.4 826.7 L575.7 824.2 L574.0 821.7 L572.2 819.2 L570.5 816.8 L568.7 814.3 L566.9 811.9 L565.0 809.5 L563.2 807.1 L561.3 804.7 L559.4 802.4 L557.5 800.1 L555.6 797.8 L553.6 795.5 L551.6 793.2 L549.7 791.0 L547.6 788.7 L545.6 786.5 L543.6 784.4 L541.5 782.2 L539.4 780.1 L537.3 778.0 L535.2 775.9 L533.0 773.9 L530.9 771.8 L528.7 769.8 L526.5 767.9 L524.2 765.9 L522.0 764.0 L519.7 762.1 L517.4 760.3 L515.1 758.4 L512.8 756.7 L510.4 754.9 L508.1 753.2 L505.7 751.5 L503.3 749.8 L500.8 748.1 L498.4 746.5 L495.9 745.0 L493.4 743.4 L490.9 741.9 L488.4 740.5 L485.8 739.0 L483.2 737.6 L480.6 736.3 L478.0 735.0 L475.4 733.7 L472.7 732.4 L470.0 731.2 L467.3 730.0 L464.6 728.9 L461.9 727.8 L459.1 726.7 L456.4 725.7 L453.6 724.7 L450.8 723.7 L447.9 722.7 L445.1 721.8 L442.3 720.9 L439.4 720.1 L436.5 719.2 L433.6 718.4 L430.7 717.6 L427.8 716.9 L424.9 716.2 L422.0 715.5 L419.0 714.8 L416.0 714.2 L413.1 713.5 L410.1 713.0 L407.1 712.4 L404.1 711.8 L401.1 711.3 L398.1 710.8 L395.1 710.3 L392.0 709.9 L389.0 709.4 L386.0 709.0 L382.9 708.6 L379.9 708.2 L376.8 707.9 L373.7 707.5 L370.7 707.2 L367.6 706.9 L364.5 706.6 L361.5 706.3 L358.4 706.1 L355.3 705.8 L352.3 705.6 L349.2 705.4 L346.1 705.1 L343.0 705.0 L340.0 704.8 L336.9 704.6 L333.8 704.4 L330.8 704.3 L327.7 704.2 L324.6 704.0 L321.6 703.9 L318.5 703.8 L315.5 703.7 L312.4 703.6 L309.4 703.5 L306.4 703.4 L303.4 703.4 L300.3 703.3 L297.3 703.2 L294.3 703.2 L291.3 703.1 L288.4 703.1 L285.4 703.0 L282.4 703.0 L279.5 702.9 L276.5 702.9 L273.6 702.8 L270.7 702.8 L267.8 702.7 L264.9 702.7"/><use href="#c000000" transform="translate(1.50 0)"/></g>
<g fill="none" stroke="#c4262b" stroke-width="5.3" stroke-linejoin="round" stroke-linecap="round"><path id="cc4262b" transform="translate(-0.75 0)" d="M554.4 813.3 L555.3 816.2 L556.1 819.1 L557.0 822.0 L558.0 824.9 L558.9 827.7 L559.9 830.6 L560.9 833.4 L561.9 836.3 L563.0 839.1 L564.1 841.9 L565.1 844.7 L566.3 847.5 L567.4 850.3 L568.6 853.1 L569.7 855.8 L570.9 858.6 L572.1 861.4 L573.4 864.1 L574.6 866.9 L575.9 869.6 L577.2 872.3 L578.5 875.0 L579.8 877.8 L581.1 880.5 L582.4 883.2 L583.8 885.9 L585.1 888.6 L586.5 891.3 L587.9 894.0 L589.3 896.6 L590.7 899.3 L592.1 902.0 L593.5 904.7 L594.9 907.3 L596.3 910.0 L597.8 912.7 L599.2 915.3 L600.6 918.0 L602.1 920.6 L603.5 923.3 L605.0 925.9 L606.4 928.6 L607.9 931.2 L609.4 933.9 L610.8 936.5 L612.3 939.2 L613.7 941.8 L615.2 944.5 L616.6 947.1 L618.1 949.8 L619.5 952.4 L620.9 955.1 L622.4 957.7 L623.8 960.4 L625.2 963.1 L626.6 965.7 L628.0 968.4 L629.4 971.1 L630.7 973.7 L632.1 976.4 L633.4 979.1 L634.7 981.8 L636.1 984.5 L637.3 987.2 L638.6 989.9 L639.9 992.6 L641.1 995.3 L642.4 998.0 L643.6 1000.7 L644.7 1003.5 L645.9 1006.2 L647.0 1009.0 L648.2 1011.7 L649.3 1014.5 L650.3 1017.3 L651.4 1020.0 L652.4 1022.8 L653.4 1025.6 L654.3 1028.5 L655.3 1031.3 L656.2 1034.1 L657.1 1036.9 L657.9 1039.8 L658.8 1042.7 L659.6 1045.5 L660.3 1048.4 L661.1 1051.3 L661.9 1054.2 L662.6 1057.0 L663.3 1059.9 L663.9 1062.9 L664.6 1065.8 L665.2 1068.7 L665.9 1071.6 L666.4 1074.6 L667.0 1077.5 L667.6 1080.4 L668.1 1083.4 L668.7 1086.3 L669.2 1089.3 L669.6 1092.3 L670.1 1095.2 L670.6 1098.2 L671.0 1101.2 L671.5 1104.2 L671.9 1107.2 L672.3 1110.1 L672.7 1113.1 L673.0 1116.1 L673.4 1119.1 L673.8 1122.1 L674.1 1125.1 L674.4 1128.1 L674.8 1131.1 L675.1 1134.1 L675.4 1137.2 L675.7 1140.2 L676.0 1143.2 L676.2 1146.2 L676.5 1149.2 L676.8 1152.2 L677.0 1155.2 L677.3 1158.3 L677.5 1161.3 L677.8 1164.3 L678.0 1167.3 L678.2 1170.3 L678.5 1173.3 L678.7 1176.4 L678.9 1179.4 L679.1 1182.4 L679.3 1185.4 L679.5 1188.4 L679.7 1191.4 L679.9 1194.4 L680.1 1197.5 L680.3 1200.5 L680.4 1203.5 L680.6 1206.5 L680.8 1209.5 L680.9 1212.5 L681.1 1215.6 L681.2 1218.6 L681.4 1221.6 L681.5 1224.6 L681.7 1227.6 L681.8 1230.6 L681.9 1233.6 L682.1 1236.7 L682.2 1239.7 L682.3 1242.7 L682.4 1245.7 L682.5 1248.7 L682.6 1251.7 L682.8 1254.7 L682.9 1257.8 L683.0 1260.8 L683.0 1263.8 L683.1 1266.8 L683.2 1269.8 L683.3 1272.8 L683.4 1275.9 L683.5 1278.9 L683.6 1281.9 L683.6 1284.9 L683.7 1287.9 L683.8 1290.9 L683.8 1293.9 L683.9 1297.0 L683.9 1300.0 L684.0 1303.0 L684.1 1306.0 L684.1 1309.0 L684.2 1312.0 L684.2 1315.0 L684.3 1318.1 L684.3 1321.1 L684.3 1324.1 L684.4 1327.1 L684.4 1330.1 L684.4 1333.1 L684.5 1336.1 L684.5 1339.2 L684.5 1342.2 L684.6 1345.2 L684.6 1348.2 L684.6 1351.2 L684.6 1354.2 L684.7 1357.2 L684.7 1360.2 L684.7 1363.3 L684.7 1366.3 L684.7 1369.3 L684.7 1372.3 L684.8 1375.3 L684.8 1378.3 L684.8 1381.3 L684.8 1384.4 L684.8 1387.4 L684.8 1390.4 L684.8 1393.4 L684.8 1396.4 L684.8 1399.4 L684.8 1402.4 L684.9 1405.4 L684.9 1408.5 L684.9 1411.5 L684.9 1414.5 L684.9 1417.5 L684.9 1420.5 L684.9 1423.5 L684.9 1426.5 L684.9 1429.5 L684.9 1432.6 L684.9 1435.6 L684.9 1438.6 L684.9 1441.6 L684.9 1444.6 L684.9 1447.6 L685.0 1450.6 L685.0 1453.6 L685.0 1456.6 L685.0 1459.7 L685.0 1462.7 L685.0 1465.7 L685.0 1468.7 L685.0 1471.7 L685.0 1474.7 L685.1 1477.7 L685.1 1480.7 L685.1 1483.7 L685.1 1486.8 L685.1 1489.8 L685.2 1492.8 L685.2 1495.8 L685.2 1498.8 L685.2 1501.8 L685.3 1504.8 L685.3 1507.8 L685.3 1510.8 L685.4 1513.9 L685.4 1516.9 L685.4 1519.9 L685.5 1522.9 L685.5 1525.9 L685.6 1528.9 L685.6 1531.9 L685.7 1534.9 L685.7 1537.9 L685.8 1540.9 L685.8 1543.9 L685.9 1547.0 L685.9 1550.0 L686.0 1553.0 L686.1 1556.0 L686.2 1559.0 L686.2 1562.0 L686.3 1565.0 L688.8 1565.0 L688.9 1561.9 L688.9 1558.9 L689.0 1555.8 L689.0 1552.7 L689.1 1549.7 L689.1 1546.6 L689.2 1543.6 L689.2 1540.5 L689.3 1537.5 L689.3 1534.4 L689.4 1531.4 L689.4 1528.4 L689.4 1525.3 L689.4 1522.3 L689.5 1519.3 L689.5 1516.2 L689.5 1513.2 L689.5 1510.2 L689.6 1507.1 L689.6 1504.1 L689.6 1501.1 L689.6 1498.1 L689.6 1495.1 L689.6 1492.0 L689.6 1489.0 L689.6 1486.0 L689.6 1483.0 L689.6 1480.0 L689.6 1477.0 L689.6 1474.0 L689.6 1471.0 L689.6 1468.0 L689.6 1465.0 L689.6 1462.0 L689.6 1459.0 L689.6 1456.0 L689.6 1453.0 L689.6 1450.0 L689.6 1447.0 L689.6 1444.0 L689.6 1441.0 L689.5 1438.0 L689.5 1435.0 L689.5 1432.0 L689.5 1429.1 L689.5 1426.1 L689.5 1423.1 L689.5 1420.1 L689.5 1417.1 L689.5 1414.1 L689.5 1411.2 L689.5 1408.2 L689.5 1405.2 L689.4 1402.2 L689.4 1399.2 L689.4 1396.3 L689.4 1393.3 L689.4 1390.3 L689.4 1387.3 L689.4 1384.4 L689.4 1381.4 L689.4 1378.4 L689.4 1375.4 L689.4 1372.5 L689.4 1369.5 L689.5 1366.5 L689.5 1363.5 L689.5 1360.6 L689.5 1357.6 L689.5 1354.6 L689.5 1351.6 L689.5 1348.7 L689.6 1345.7 L689.6 1342.7 L689.6 1339.7 L689.6 1336.8 L689.7 1333.8 L689.7 1330.8 L689.8 1327.9 L689.8 1324.9 L689.8 1321.9 L689.9 1318.9 L689.9 1316.0 L690.0 1313.0 L690.0 1310.0 L690.1 1307.0 L690.2 1304.1 L690.2 1301.1 L690.3 1298.1 L690.4 1295.1 L690.4 1292.1 L690.5 1289.2 L690.6 1286.2 L690.7 1283.2 L690.8 1280.2 L690.9 1277.2 L691.0 1274.3 L691.1 1271.3 L691.2 1268.3 L691.3 1265.3 L691.4 1262.3 L691.5 1259.3 L691.6 1256.3 L691.8 1253.3 L691.9 1250.4 L692.0 1247.4 L692.2 1244.4 L692.3 1241.4 L692.5 1238.4 L692.6 1235.4 L692.8 1232.4 L693.0 1229.4 L693.1 1226.4 L693.3 1223.4 L693.5 1220.4 L693.7 1217.4 L693.9 1214.3 L694.1 1211.3 L694.3 1208.3 L694.5 1205.3 L694.7 1202.3 L695.0 1199.3 L695.2 1196.3 L695.4 1193.2 L695.7 1190.2 L695.9 1187.2 L696.2 1184.2 L696.5 1181.1 L696.7 1178.1 L697.0 1175.1 L697.3 1172.0 L697.6 1169.0 L697.9 1166.0 L698.2 1162.9 L698.5 1159.9 L698.8 1156.8 L699.1 1153.8 L699.5 1150.7 L699.8 1147.7 L700.2 1144.6 L700.5 1141.6 L700.9 1138.5 L701.3 1135.5 L701.7 1132.4 L702.1 1129.4 L702.5 1126.3 L703.0 1123.3 L703.4 1120.3 L703.9 1117.2 L704.4 1114.2 L704.9 1111.2 L705.4 1108.2 L705.9 1105.1 L706.5 1102.1 L707.0 1099.1 L707.6 1096.2 L708.3 1093.2 L708.9 1090.2 L709.6 1087.2 L710.2 1084.3 L711.0 1081.3 L711.7 1078.4 L712.4 1075.5 L713.2 1072.6 L714.0 1069.7 L714.9 1066.8 L715.7 1063.9 L716.6 1061.1 L717.6 1058.2 L718.5 1055.4 L719.5 1052.6 L720.5 1049.8 L721.6 1047.0 L722.7 1044.3 L723.8 1041.5 L724.9 1038.8 L726.1 1036.1 L727.3 1033.4 L728.6 1030.8 L729.9 1028.1 L731.2 1025.5 L732.6 1022.9 L734.0 1020.3 L735.4 1017.8 L736.9 1015.2 L738.5 1012.7 L740.0 1010.2 L741.6 1007.8 L743.3 1005.3 L745.0 1002.9 L746.7 1000.5 L748.4 998.1 L750.2 995.8 L752.0 993.5 L753.9 991.2 L755.8 988.9 L757.7 986.7 L759.7 984.4 L761.7 982.2 L763.7 980.1 L765.8 977.9 L767.8 975.8 L770.0 973.7 L772.1 971.6 L774.3 969.6 L776.5 967.6 L778.7 965.6 L781.0 963.6 L783.2 961.6 L785.5 959.7 L787.9 957.8 L790.2 956.0 L792.6 954.1 L795.0 952.3 L797.5 950.5 L799.9 948.8 L802.4 947.0 L804.9 945.3 L807.4 943.7 L809.9 942.0 L812.5 940.4 L815.0 938.8 L817.6 937.2 L820.2 935.7 L822.8 934.2 L825.5 932.7 L828.1 931.2 L830.8 929.8 L833.5 928.4 L836.2 927.0 L838.9 925.7 L841.6 924.4 L844.4 923.1 L847.1 921.8 L849.9 920.6 L852.6 919.4 L855.4 918.3 L858.2 917.1 L861.0 916.0 L863.8 914.9 L866.6 913.9 L869.5 912.8 L872.3 911.8 L875.1 910.9 L878.0 909.9 L880.8 909.0 L883.7 908.1 L886.6 907.2 L889.5 906.4 L892.3 905.6 L895.2 904.8 L898.1 904.0 L901.0 903.2 L904.0 902.5 L906.9 901.8 L909.8 901.1 L912.7 900.4 L915.7 899.8 L918.6 899.1 L921.5 898.5 L924.5 897.9 L927.4 897.3 L930.4 896.8 L933.4 896.2 L936.3 895.7 L939.3 895.2 L942.3 894.7 L945.2 894.2 L948.2 893.7 L951.2 893.3 L954.2 892.8 L957.2 892.4 L960.2 892.0 L963.2 891.6 L966.1 891.2 L969.1 890.8 L972.1 890.4 L975.1 890.0 L978.1 889.7 L981.1 889.3 L984.1 889.0 L987.1 888.7 L990.1 888.3 L993.1 888.0 L996.1 887.7 L999.1 887.4 L1002.1 887.1 L1005.1 886.8 L1008.1 886.5 L1011.1 886.2 L1014.1 886.0 L1017.1 885.7 L1020.1 885.4 L1023.1 885.1 L1026.1 884.9 L1029.1 884.6 L1032.1 884.4 L1035.1 884.1 L1038.1 883.9 L1041.1 883.7 L1044.1 883.4 L1047.1 883.2 L1050.1 883.0 L1053.1 882.7 L1056.1 882.5 L1059.1 882.3 L1062.0 882.1 L1065.0 881.9 L1068.0 881.7 L1071.0 881.5 L1074.0 881.2 L1077.0 881.0 L1080.0 880.8 L1083.0 880.6 L1086.0 880.4 L1089.0 880.2 L1092.0 880.0 L1095.0 879.8 L1098.0 879.6 L1100.9 879.4 L1103.9 879.2 L1106.9 879.0 L1109.9 878.8 L1112.9 878.6 L1115.9 878.4 L1118.9 878.2 L1121.9 878.0 L1124.8 877.8 L1127.8 877.6 L1130.8 877.4 L1133.8 877.2 L1136.8 877.0 L1139.8 876.8 L1142.7 876.6 L1145.7 876.3 L1148.7 876.1 L1151.7 875.9 L1154.7 875.7 L1157.7 875.5 L1160.6 875.2 L1163.6 875.0 L1166.6 874.8 L1169.6 874.5 L1172.5 874.3 L1175.5 874.1 L1178.5 873.8 L1181.5 873.6 L1184.5 873.4 L1187.4 873.1 L1190.4 872.9 L1193.4 872.6 L1196.4 872.4 L1199.4 872.2 L1202.3 871.9 L1205.3 871.7 L1208.3 871.4 L1211.3 871.2 L1214.3 871.0 L1217.3 870.7 L1220.2 870.5 L1223.2 870.3 L1226.2 870.0 L1229.2 869.8 L1232.2 869.6 L1235.2 869.3 L1238.2 869.1 L1241.2 868.9 L1244.2 868.7 L1247.2 868.5 L1250.1 868.3 L1253.1 868.1 L1256.1 867.8 L1259.1 867.6 L1262.2 867.4 L1265.2 867.2 L1268.2 867.1 L1271.2 866.9 L1274.2 866.7 L1277.2 866.5 L1280.2 866.3 L1283.2 866.2 L1286.2 866.0 L1289.3 865.8 L1292.3 865.7 L1295.3 865.5 L1298.3 865.4 L1301.4 865.3 L1304.4 865.1 L1307.4 865.0 L1310.5 864.9 L1313.5 864.8 L1316.6 864.6 L1319.6 864.5 L1322.7 864.5 L1325.7 864.4 L1328.8 864.3 L1331.8 864.2 L1334.9 864.1 L1338.0 864.1 L1341.0 864.0 L1344.1 864.0 L1347.2 864.0 L1350.2 863.9 L1353.3 863.9 L1356.4 863.9 L1359.5 863.8 L1362.5 863.8 L1365.6 863.7 L1368.6 863.6 L1371.7 863.5 L1374.7 863.3 L1377.7 863.1 L1380.7 862.9 L1383.7 862.7 L1386.7 862.3 L1389.6 862.0 L1392.5 861.6 L1395.4 861.1 L1398.3 860.5 L1401.1 859.9 L1403.9 859.3 L1406.7 858.5 L1409.4 857.7 L1412.1 856.7 L1414.8 855.7 L1417.3 854.5 L1419.8 853.2 L1422.2 851.8 L1424.5 850.2 L1426.7 848.5 L1428.8 846.6 L1430.8 844.5 L1432.7 842.3 L1434.5 840.0 L1436.1 837.5 L1437.7 835.0 L1439.2 832.4 L1440.6 829.6 L1442.0 826.9 L1443.4 824.1 L1444.6 821.3 L1445.9 818.5 L1447.1 815.7 L1448.3 812.8 L1449.5 810.0 L1450.6 807.2 L1451.7 804.3 L1452.8 801.5 L1453.9 798.6 L1454.9 795.8 L1455.9 792.9 L1456.9 790.0 L1457.9 787.2 L1458.9 784.3 L1459.8 781.4 L1460.7 778.6 L1461.6 775.7 L1462.5 772.8 L1463.4 769.9 L1464.3 767.1 L1465.1 764.2 L1466.0 761.3 L1466.8 758.4 L1467.7 755.5 L1468.5 752.6 L1469.4 749.7 L1470.2 746.9 L1471.0 744.0 L1471.8 741.1 L1472.6 738.2 L1473.5 735.3 L1474.3 732.4 L1475.1 729.5 L1475.9 726.7 L1476.7 723.8 L1477.5 720.9 L1478.3 718.0 L1479.1 715.1 L1479.8 712.2 L1480.6 709.3 L1481.4 706.4 L1482.2 703.6 L1483.0 700.7 L1483.7 697.8 L1484.5 694.9 L1485.3 692.0 L1486.0 689.1 L1486.8 686.2 L1487.6 683.3 L1488.3 680.4 L1489.1 677.6 L1489.8 674.7 L1490.6 671.8 L1491.3 668.9 L1492.1 666.0 L1492.8 663.1 L1493.5 660.2 L1494.3 657.3 L1495.0 654.4 L1495.8 651.5 L1496.5 648.6 L1497.2 645.7 L1497.9 642.8 L1498.7 639.9 L1499.4 637.0 L1500.1 634.1 L1500.8 631.2 L1501.5 628.3 L1502.3 625.4 L1503.0 622.5 L1503.7 619.6 L1504.4 616.7 L1505.1 613.8 L1505.8 610.8 L1506.5 607.9 L1507.2 605.0 L1507.9 602.1 L1508.6 599.2 L1509.3 596.3 L1510.0 593.4 L1510.7 590.4 L1511.4 587.5 L1512.1 584.6 L1512.8 581.7 L1513.5 578.8 L1514.2 575.8 L1514.9 572.9 L1515.6 570.0 L1516.3 567.0 L1517.0 564.1 L1517.7 561.2 L1518.4 558.2 L1519.1 555.3 L1519.8 552.4 L1520.4 549.4 L1521.1 546.5 L1521.8 543.6 L1522.5 540.6 L1523.2 537.7 L1523.9 534.7 L1524.6 531.8 L1525.2 528.8 L1525.9 525.9 L1526.6 522.9 L1527.3 520.0 L1528.0 517.0 L1528.7 514.1 L1529.4 511.1 L1530.1 508.1 L1530.8 505.2 L1531.5 502.2 L1532.2 499.3 L1532.9 496.3 L1533.6 493.4 L1534.3 490.4 L1535.0 487.5 L1535.7 484.5 L1536.5 481.6 L1537.2 478.6 L1538.0 475.7 L1538.7 472.7 L1539.5 469.8 L1540.3 466.9 L1541.1 464.0 L1541.8 461.0 L1542.6 458.1 L1543.5 455.2 L1544.3 452.3 L1545.1 449.4 L1546.0 446.5 L1546.8 443.6 L1547.7 440.7 L1548.6 437.8 L1549.5 435.0 L1550.4 432.1 L1551.4 429.2 L1552.3 426.4 L1553.3 423.5 L1554.2 420.7 L1555.2 417.9 L1556.2 415.0 L1557.3 412.2 L1558.3 409.4 L1559.4 406.6 L1560.5 403.9 L1561.6 401.1 L1562.7 398.3 L1563.9 395.6 L1565.0 392.8 L1566.2 390.1 L1567.4 387.4 L1568.7 384.7 L1569.9 382.0 L1571.2 379.3 L1572.5 376.6 L1573.8 373.9 L1575.2 371.3 L1576.5 368.7 L1577.9 366.0 L1579.4 363.4 L1580.8 360.8 L1582.3 358.3 L1583.8 355.7 L1585.3 353.2 L1586.9 350.6 L1588.5 348.1 L1590.1 345.6 L1591.7 343.1 L1593.4 340.6 L1595.1 338.2 L1596.8 335.7 L1598.5 333.3 L1600.3 330.9 L1602.1 328.5 L1603.9 326.1 L1605.7 323.8 L1607.6 321.4 L1609.5 319.1 L1611.4 316.8 L1613.3 314.5 L1615.3 312.2 L1617.2 310.0 L1619.2 307.7 L1621.3 305.5 L1623.3 303.3 L1625.4 301.1 L1627.4 298.9 L1629.5 296.8 L1631.7 294.7 L1633.8 292.6 L1636.0 290.5 L1638.1 288.4 L1640.3 286.3 L1642.5 284.3 L1644.8 282.3 L1647.0 280.3 L1649.3 278.3 L1651.6 276.4 L1653.9 274.4 L1656.2 272.5 L1658.6 270.6 L1660.9 268.7 L1663.3 266.9 L1665.7 265.1 L1668.1 263.2 L1670.5 261.4 L1672.9 259.7 L1675.4 257.9 L1677.8 256.2 L1680.3 254.5 L1682.8 252.8 L1685.3 251.2 L1687.8 249.5 L1690.4 247.9 L1692.9 246.3 L1695.5 244.7 L1698.0 243.1 L1700.6 241.5 L1703.2 240.0 L1705.8 238.4 L1708.4 236.9 L1711.0 235.4 L1713.6 233.9 L1716.2 232.4 L1718.8 230.9 L1721.4 229.4 L1724.1 227.9 L1726.7 226.5 L1729.4 225.0 L1732.0 223.5 L1734.7 222.1 L1737.3 220.7 L1740.0 219.2 L1742.6 217.8 L1745.3 216.3 L1747.9 214.9 L1750.6 213.5 L1753.2 212.0 L1755.9 210.6 L1758.5 209.1 L1761.2 207.7 L1763.9 206.3 L1766.5 204.8 L1769.2 203.4 L1771.8 202.0 L1774.5 200.6 L1777.1 199.2 L1779.8 197.7 L1782.5 196.3 L1785.1 195.0 L1787.8 193.6 L1790.5 192.2 L1793.2 190.8 L1795.8 189.5 L1798.5 188.1 L1801.2 186.8 L1803.9 185.5 L1806.6 184.2 L1809.3 182.9 L1812.0 181.6 L1814.7 180.3 L1817.4 179.1 L1820.2 177.8 L1822.9 176.6 L1825.6 175.4 L1828.4 174.2 L1831.1 173.1 L1833.9 171.9 L1836.6 170.8 L1839.4 169.7 L1842.2 168.6 L1845.0 167.6 L1847.8 166.5 L1850.6 165.5 L1853.4 164.6 L1856.2 163.6 L1859.1 162.7 L1861.9 161.8 L1864.8 160.9 L1867.7 160.0 L1870.5 159.2 L1873.4 158.4 L1876.3 157.6 L1879.2 156.9 L1882.1 156.1 L1885.0 155.4 L1888.0 154.7 L1890.9 154.1 L1893.8 153.4 L1896.8 152.8 L1899.7 152.2 L1902.7 151.6 L1905.7 151.0 L1908.6 150.5 L1911.6 149.9 L1914.6 149.4 L1917.6 148.9 L1920.5 148.4 L1923.5 147.9 L1926.5 147.4 L1929.5 146.9 L1932.5 146.5 L1935.5 146.0 L1938.5 145.6 L1941.5 145.2 L1944.5 144.8 L1947.5 144.4 L1950.5 144.0 L1953.5 143.6 L1956.5 143.2 L1959.5 142.8 L1962.5 142.4 L1965.5 142.0 L1968.5 141.7 L1971.5 141.3 L1974.5 140.9 L1977.5 140.5 L1980.5 140.2 L1983.5 139.8 L1986.5 139.4 L1989.4 139.1 L1992.4 138.7 L1995.4 138.3 L1998.3 137.9 L2001.3 137.5 L2004.3 137.1 L2007.2 136.7 L2010.1 136.3 L2013.1 135.9 L2016.0 135.5 L2016.0 132.0 L2013.0 131.7 L2009.9 131.5 L2006.9 131.3 L2003.9 131.1 L2000.9 131.0 L1997.8 130.8 L1994.8 130.7 L1991.8 130.6 L1988.8 130.5 L1985.8 130.4 L1982.8 130.4 L1979.8 130.4 L1976.7 130.4 L1973.7 130.4 L1970.7 130.4 L1967.7 130.5 L1964.7 130.5 L1961.7 130.6 L1958.7 130.7 L1955.7 130.8 L1952.7 131.0 L1949.7 131.1 L1946.7 131.3 L1943.8 131.5 L1940.8 131.7 L1937.8 131.9 L1934.8 132.2 L1931.8 132.4 L1928.8 132.7 L1925.8 132.9 L1922.8 133.2 L1919.9 133.5 L1916.9 133.9 L1913.9 134.2 L1910.9 134.5 L1908.0 134.9 L1905.0 135.3 L1902.0 135.7 L1899.0 136.1 L1896.1 136.5 L1893.1 136.9 L1890.1 137.3 L1887.2 137.8 L1884.2 138.2 L1881.2 138.7 L1878.3 139.2 L1875.3 139.6 L1872.3 140.1 L1869.4 140.6 L1866.4 141.2 L1863.5 141.7 L1860.5 142.2 L1857.5 142.8 L1854.6 143.3 L1851.6 143.9 L1848.7 144.4 L1845.7 145.0 L1842.8 145.6 L1839.8 146.2 L1836.9 146.8 L1833.9 147.4 L1831.0 148.0 L1828.0 148.6 L1825.1 149.2 L1822.1 149.8 L1819.2 150.4 L1816.2 151.1 L1813.3 151.7 L1810.3 152.3 L1807.4 153.0 L1804.4 153.6 L1801.5 154.3 L1798.5 154.9 L1795.6 155.6 L1792.7 156.2 L1789.7 156.9 L1786.8 157.6 L1783.8 158.2 L1780.9 158.9 L1778.0 159.6 L1775.0 160.2 L1772.1 160.9 L1769.1 161.6 L1766.2 162.3 L1763.3 162.9 L1760.3 163.6 L1757.4 164.3 L1754.5 164.9 L1751.5 165.6 L1748.6 166.3 L1745.6 166.9 L1742.7 167.6 L1739.8 168.3 L1736.8 168.9 L1733.9 169.6 L1731.0 170.2 L1728.0 170.9 L1725.1 171.6 L1722.2 172.2 L1719.2 172.9 L1716.3 173.5 L1713.4 174.2 L1710.4 174.9 L1707.5 175.5 L1704.6 176.2 L1701.7 176.9 L1698.7 177.5 L1695.8 178.2 L1692.9 178.9 L1690.0 179.6 L1687.0 180.2 L1684.1 180.9 L1681.2 181.6 L1678.3 182.3 L1675.3 183.0 L1672.4 183.7 L1669.5 184.4 L1666.6 185.1 L1663.7 185.8 L1660.8 186.5 L1657.9 187.2 L1654.9 187.9 L1652.0 188.7 L1649.1 189.4 L1646.2 190.1 L1643.3 190.9 L1640.4 191.6 L1637.5 192.4 L1634.6 193.1 L1631.7 193.9 L1628.8 194.6 L1625.9 195.4 L1623.0 196.2 L1620.1 197.0 L1617.2 197.8 L1614.3 198.6 L1611.4 199.4 L1608.6 200.2 L1605.7 201.1 L1602.8 201.9 L1599.9 202.8 L1597.0 203.6 L1594.1 204.5 L1591.3 205.4 L1588.4 206.2 L1585.5 207.1 L1582.7 208.0 L1579.8 209.0 L1576.9 209.9 L1574.1 210.8 L1571.2 211.8 L1568.3 212.7 L1565.5 213.7 L1562.6 214.6 L1559.8 215.6 L1556.9 216.6 L1554.1 217.6 L1551.3 218.7 L1548.4 219.7 L1545.6 220.7 L1542.8 221.8 L1540.0 222.8 L1537.2 223.9 L1534.3 225.0 L1531.5 226.1 L1528.7 227.2 L1525.9 228.4 L1523.2 229.5 L1520.4 230.6 L1517.6 231.8 L1514.8 233.0 L1512.1 234.2 L1509.3 235.4 L1506.6 236.6 L1503.8 237.8 L1501.1 239.1 L1498.3 240.3 L1495.6 241.6 L1492.9 242.9 L1490.2 244.2 L1487.5 245.5 L1484.8 246.8 L1482.1 248.2 L1479.4 249.5 L1476.8 250.9 L1474.1 252.3 L1471.5 253.7 L1468.8 255.1 L1466.2 256.6 L1463.5 258.0 L1460.9 259.5 L1458.3 261.0 L1455.7 262.5 L1453.1 264.0 L1450.6 265.5 L1448.0 267.1 L1445.4 268.6 L1442.9 270.2 L1440.4 271.8 L1437.8 273.4 L1435.3 275.1 L1432.8 276.7 L1430.3 278.4 L1427.8 280.1 L1425.4 281.8 L1422.9 283.5 L1420.5 285.3 L1418.0 287.0 L1415.6 288.8 L1413.2 290.6 L1410.8 292.4 L1408.4 294.2 L1406.1 296.1 L1403.7 298.0 L1401.4 299.8 L1399.0 301.8 L1396.7 303.7 L1394.4 305.6 L1392.2 307.6 L1389.9 309.6 L1387.6 311.6 L1385.4 313.6 L1383.2 315.6 L1381.0 317.7 L1378.8 319.8 L1376.7 321.8 L1374.5 324.0 L1372.4 326.1 L1370.3 328.2 L1368.2 330.4 L1366.2 332.6 L1364.1 334.8 L1362.1 337.0 L1360.1 339.3 L1358.2 341.6 L1356.2 343.8 L1354.3 346.1 L1352.4 348.5 L1350.5 350.8 L1348.6 353.2 L1346.8 355.5 L1345.0 357.9 L1343.2 360.4 L1341.4 362.8 L1339.7 365.2 L1338.0 367.7 L1336.2 370.2 L1334.6 372.7 L1332.9 375.2 L1331.3 377.7 L1329.6 380.3 L1328.0 382.8 L1326.5 385.4 L1324.9 388.0 L1323.4 390.5 L1321.8 393.1 L1320.3 395.8 L1318.8 398.4 L1317.4 401.0 L1315.9 403.7 L1314.5 406.3 L1313.1 409.0 L1311.6 411.6 L1310.3 414.3 L1308.9 417.0 L1307.5 419.7 L1306.2 422.4 L1304.9 425.1 L1303.6 427.8 L1302.3 430.5 L1301.0 433.2 L1299.7 436.0 L1298.5 438.7 L1297.2 441.4 L1296.0 444.2 L1294.8 446.9 L1293.6 449.7 L1292.4 452.4 L1291.2 455.2 L1290.1 457.9 L1288.9 460.7 L1287.8 463.5 L1286.6 466.3 L1285.5 469.1 L1284.4 471.9 L1283.3 474.6 L1282.3 477.4 L1281.2 480.2 L1280.1 483.1 L1279.1 485.9 L1278.0 488.7 L1277.0 491.5 L1276.0 494.3 L1275.0 497.1 L1273.9 500.0 L1272.9 502.8 L1272.0 505.6 L1271.0 508.5 L1270.0 511.3 L1269.0 514.2 L1268.1 517.0 L1267.1 519.9 L1266.2 522.7 L1265.2 525.6 L1264.3 528.4 L1263.4 531.3 L1262.5 534.2 L1261.6 537.0 L1260.7 539.9 L1259.8 542.8 L1258.9 545.6 L1258.0 548.5 L1257.1 551.4 L1256.2 554.3 L1255.3 557.2 L1254.4 560.0 L1253.6 562.9 L1252.7 565.8 L1251.8 568.7 L1251.0 571.6 L1250.1 574.5 L1249.3 577.4 L1248.4 580.2 L1247.5 583.1 L1246.7 586.0 L1245.8 588.9 L1245.0 591.8 L1244.1 594.7 L1243.3 597.6 L1242.5 600.5 L1241.6 603.4 L1240.8 606.3 L1239.9 609.2 L1239.1 612.1 L1238.2 615.0 L1237.4 617.9 L1236.5 620.7 L1235.7 623.6 L1234.8 626.5 L1234.0 629.4 L1233.1 632.3 L1232.3 635.2 L1231.4 638.1 L1230.6 641.0 L1229.7 643.9 L1228.8 646.8 L1227.9 649.6 L1227.1 652.5 L1226.2 655.4 L1225.3 658.3 L1224.4 661.2 L1223.5 664.0 L1222.6 666.9 L1221.7 669.8 L1220.8 672.7 L1219.9 675.5 L1219.0 678.4 L1218.1 681.3 L1217.2 684.1 L1216.2 687.0 L1215.3 689.9 L1214.3 692.7 L1213.4 695.6 L1212.4 698.4 L1211.4 701.3 L1210.5 704.1 L1209.5 706.9 L1208.5 709.8 L1207.5 712.6 L1206.5 715.4 L1205.5 718.3 L1204.4 721.1 L1203.4 723.9 L1202.4 726.8 L1201.3 729.6 L1200.3 732.4 L1199.3 735.2 L1198.2 738.0 L1197.1 740.8 L1196.1 743.7 L1195.0 746.5 L1193.9 749.3 L1192.9 752.1 L1191.8 754.9 L1190.7 757.7 L1189.6 760.5 L1188.5 763.3 L1187.4 766.1 L1186.3 768.9 L1185.2 771.7 L1184.1 774.5 L1183.0 777.3 L1181.9 780.1 L1180.8 782.9 L1179.7 785.7 L1178.6 788.4 L1177.5 791.2 L1176.4 794.0 L1175.3 796.8 L1174.2 799.6 L1173.1 802.4 L1172.0 805.2 L1170.8 808.0 L1169.7 810.8 L1168.6 813.6 L1167.5 816.4 L1166.4 819.2 L1165.3 822.0 L1164.2 824.8 L1163.1 827.5 L1162.0 830.3 L1160.9 833.1 L1159.8 835.9 L1158.7 838.7 L1157.6 841.5 L1156.5 844.3 L1155.4 847.1 L1154.3 849.9 L1153.3 852.7 L1152.2 855.5 L1151.1 858.4 L1150.1 861.2 L1149.0 864.0 L1147.9 866.8 L1146.9 869.6 L1145.8 872.4 L1144.8 875.2 L1143.8 878.1 L1142.7 880.9 L1141.7 883.7 L1140.7 886.5 L1139.7 889.4 L1138.7 892.2 L1137.7 895.0 L1136.7 897.9 L1135.7 900.7 L1134.7 903.5 L1133.8 906.4 L1132.8 909.2 L1131.9 912.1 L1131.0 914.9 L1130.0 917.8 L1129.1 920.7 L1128.2 923.5 L1127.3 926.4 L1126.5 929.3 L1125.6 932.1 L1124.8 935.0 L1123.9 937.9 L1123.1 940.8 L1122.3 943.7 L1121.5 946.6 L1120.7 949.5 L1120.0 952.4 L1119.2 955.3 L1118.5 958.2 L1117.8 961.1 L1117.1 964.0 L1116.4 966.9 L1115.7 969.9 L1115.1 972.8 L1114.4 975.7 L1113.8 978.7 L1113.2 981.6 L1112.6 984.6 L1112.1 987.5 L1111.5 990.5 L1111.0 993.4 L1110.5 996.4 L1110.0 999.4 L1109.5 1002.3 L1109.1 1005.3 L1108.6 1008.3 L1108.2 1011.3 L1107.8 1014.3 L1107.4 1017.3 L1107.0 1020.3 L1106.6 1023.3 L1106.2 1026.3 L1105.9 1029.3 L1105.6 1032.3 L1105.2 1035.3 L1104.9 1038.3 L1104.6 1041.3 L1104.3 1044.3 L1104.0 1047.3 L1103.7 1050.3 L1103.5 1053.3 L1103.2 1056.3 L1102.9 1059.3 L1102.7 1062.3 L1102.4 1065.3 L1102.2 1068.3 L1102.0 1071.3 L1101.8 1074.4 L1101.5 1077.4 L1101.3 1080.4 L1101.1 1083.4 L1100.9 1086.4 L1100.8 1089.4 L1100.6 1092.4 L1100.4 1095.4 L1100.2 1098.4 L1100.1 1101.4 L1099.9 1104.4 L1099.8 1107.4 L1099.6 1110.4 L1099.5 1113.4 L1099.3 1116.4 L1099.2 1119.4 L1099.1 1122.4 L1098.9 1125.4 L1098.8 1128.4 L1098.7 1131.4 L1098.6 1134.4 L1098.5 1137.4 L1098.4 1140.4 L1098.3 1143.4 L1098.2 1146.5 L1098.2 1149.5 L1098.1 1152.5 L1098.0 1155.5 L1097.9 1158.5 L1097.9 1161.5 L1097.8 1164.5 L1097.7 1167.5 L1097.7 1170.5 L1097.6 1173.5 L1097.6 1176.5 L1097.5 1179.5 L1097.5 1182.5 L1097.4 1185.5 L1097.4 1188.5 L1097.4 1191.5 L1097.3 1194.5 L1097.3 1197.5 L1097.3 1200.5 L1097.3 1203.5 L1097.2 1206.5 L1097.2 1209.5 L1097.2 1212.5 L1097.2 1215.5 L1097.2 1218.5 L1097.2 1221.5 L1097.2 1224.5 L1097.2 1227.5 L1097.2 1230.5 L1097.2 1233.5 L1097.2 1236.5 L1097.2 1239.5 L1097.2 1242.5 L1097.2 1245.6 L1097.2 1248.6 L1097.2 1251.6 L1097.2 1254.6 L1097.2 1257.6 L1097.2 1260.6 L1097.2 1263.6 L1097.2 1266.6 L1097.2 1269.6 L1097.2 1272.6 L1097.2 1275.6 L1097.2 1278.6 L1097.2 1281.6 L1097.2 1284.6 L1097.2 1287.6 L1097.2 1290.7 L1097.2 1293.7 L1097.3 1296.7 L1097.3 1299.7 L1097.3 1302.7 L1097.3 1305.7 L1097.3 1308.7 L1097.3 1311.7 L1097.3 1314.7 L1097.3 1317.7 L1097.3 1320.8 L1097.3 1323.8 L1097.3 1326.8 L1097.3 1329.8 L1097.2 1332.8 L1097.2 1335.8 L1097.2 1338.8 L1097.2 1341.9 L1097.2 1344.9 L1097.2 1347.9 L1097.1 1350.9 L1097.1 1353.9 L1097.1 1356.9 L1097.1 1360.0 L1097.0 1363.0 L1097.0 1366.0 L1091.5 1366.0 L1091.4 1363.1 L1091.3 1360.3 L1091.2 1357.4 L1091.2 1354.5 L1091.1 1351.6 L1091.0 1348.7 L1091.0 1345.9 L1090.9 1342.9 L1090.9 1340.0 L1090.9 1337.1 L1090.9 1334.2 L1090.8 1331.3 L1090.8 1328.3 L1090.8 1325.4 L1090.8 1322.5 L1090.8 1319.5 L1090.8 1316.6 L1090.9 1313.6 L1090.9 1310.6 L1090.9 1307.7 L1090.9 1304.7 L1091.0 1301.7 L1091.0 1298.7 L1091.0 1295.7 L1091.1 1292.7 L1091.1 1289.7 L1091.2 1286.7 L1091.2 1283.7 L1091.3 1280.7 L1091.4 1277.7 L1091.4 1274.7 L1091.5 1271.7 L1091.5 1268.7 L1091.6 1265.6 L1091.7 1262.6 L1091.7 1259.6 L1091.8 1256.6 L1091.9 1253.5 L1091.9 1250.5 L1092.0 1247.4 L1092.1 1244.4 L1092.1 1241.3 L1092.2 1238.3 L1092.3 1235.2 L1092.3 1232.2 L1092.4 1229.1 L1092.4 1226.1 L1092.5 1223.0 L1092.5 1220.0 L1092.6 1216.9 L1092.6 1213.8 L1092.7 1210.8 L1092.7 1207.7 L1092.8 1204.6 L1092.8 1201.6 L1092.8 1198.5 L1092.8 1195.4 L1092.9 1192.4 L1092.9 1189.3 L1092.9 1186.2 L1092.9 1183.2 L1092.9 1180.1 L1092.9 1177.0 L1092.9 1174.0 L1092.9 1170.9 L1092.8 1167.8 L1092.8 1164.7 L1092.8 1161.7 L1092.7 1158.6 L1092.7 1155.5 L1092.6 1152.5 L1092.5 1149.4 L1092.5 1146.4 L1092.4 1143.3 L1092.3 1140.2 L1092.2 1137.2 L1092.1 1134.1 L1092.0 1131.1 L1091.8 1128.0 L1091.7 1125.0 L1091.6 1121.9 L1091.4 1118.9 L1091.2 1115.8 L1091.1 1112.8 L1090.9 1109.7 L1090.7 1106.7 L1090.4 1103.7 L1090.2 1100.6 L1090.0 1097.6 L1089.7 1094.6 L1089.5 1091.5 L1089.2 1088.5 L1088.9 1085.5 L1088.6 1082.5 L1088.3 1079.5 L1088.0 1076.5 L1087.7 1073.5 L1087.3 1070.5 L1086.9 1067.5 L1086.6 1064.5 L1086.2 1061.5 L1085.7 1058.5 L1085.3 1055.6 L1084.9 1052.6 L1084.4 1049.6 L1084.0 1046.7 L1083.5 1043.7 L1083.0 1040.8 L1082.4 1037.8 L1081.9 1034.9 L1081.3 1031.9 L1080.8 1029.0 L1080.2 1026.1 L1079.6 1023.2 L1079.0 1020.3 L1078.3 1017.4 L1077.6 1014.5 L1077.0 1011.6 L1076.3 1008.7 L1075.5 1005.8 L1074.8 1002.9 L1074.1 1000.1 L1073.3 997.2 L1072.5 994.3 L1071.7 991.5 L1070.8 988.7 L1070.0 985.8 L1069.1 983.0 L1068.2 980.2 L1067.3 977.4 L1066.3 974.6 L1065.4 971.8 L1064.4 969.0 L1063.4 966.2 L1062.3 963.4 L1061.3 960.7 L1060.2 957.9 L1059.1 955.2 L1058.0 952.5 L1056.8 949.7 L1055.6 947.0 L1054.4 944.3 L1053.2 941.6 L1052.0 938.9 L1050.7 936.2 L1049.4 933.6 L1048.1 930.9 L1046.8 928.2 L1045.4 925.6 L1044.0 923.0 L1042.6 920.3 L1041.2 917.7 L1039.7 915.1 L1038.3 912.5 L1036.8 909.9 L1035.3 907.3 L1033.7 904.7 L1032.2 902.2 L1030.6 899.6 L1029.0 897.1 L1027.4 894.5 L1025.8 892.0 L1024.1 889.4 L1022.5 886.9 L1020.8 884.4 L1019.1 881.9 L1017.4 879.4 L1015.7 876.9 L1013.9 874.5 L1012.2 872.0 L1010.4 869.5 L1008.6 867.1 L1006.8 864.6 L1005.0 862.2 L1003.2 859.8 L1001.3 857.3 L999.5 854.9 L997.6 852.5 L995.7 850.1 L993.8 847.7 L991.9 845.3 L990.0 842.9 L988.0 840.6 L986.1 838.2 L984.1 835.9 L982.2 833.5 L980.2 831.2 L978.2 828.8 L976.2 826.5 L974.2 824.2 L972.2 821.9 L970.2 819.6 L968.2 817.3 L966.1 815.0 L964.1 812.7 L962.0 810.4 L960.0 808.1 L957.9 805.9 L955.8 803.6 L953.8 801.4 L951.7 799.1 L949.6 796.9 L947.5 794.7 L945.4 792.4 L943.3 790.2 L941.2 788.0 L939.1 785.8 L937.0 783.6 L934.9 781.4 L932.8 779.2 L930.7 777.1 L928.5 774.9 L926.4 772.7 L924.3 770.6 L922.2 768.4 L920.0 766.2 L917.9 764.1 L915.8 762.0 L913.7 759.8 L911.5 757.7 L909.4 755.6 L907.3 753.5 L905.1 751.4 L903.0 749.4 L900.8 747.3 L898.7 745.3 L896.5 743.2 L894.3 741.2 L892.1 739.2 L889.9 737.3 L887.7 735.3 L885.5 733.4 L883.3 731.5 L881.0 729.6 L878.8 727.7 L876.5 725.8 L874.2 724.0 L871.9 722.2 L869.6 720.5 L867.3 718.7 L865.0 717.0 L862.6 715.3 L860.2 713.7 L857.8 712.1 L855.4 710.5 L852.9 708.9 L850.5 707.4 L848.0 705.9 L845.5 704.5 L842.9 703.0 L840.4 701.7 L837.8 700.3 L835.2 699.0 L832.5 697.8 L829.9 696.6 L827.2 695.4 L824.4 694.3 L821.7 693.2 L818.9 692.1 L816.1 691.1 L813.3 690.2 L810.4 689.3 L807.5 688.4 L804.6 687.5 L801.7 686.7 L798.7 685.9 L795.8 685.2 L792.8 684.4 L789.8 683.7 L786.8 683.0 L783.8 682.3 L780.8 681.6 L777.8 680.9 L774.8 680.3 L771.8 679.6 L768.8 678.9 L765.8 678.2 L762.8 677.5 L759.8 676.8 L756.8 676.1 L753.9 675.4 L750.9 674.7 L747.9 673.9 L745.0 673.2 L742.1 672.5 L739.1 671.8 L736.2 671.1 L733.3 670.4 L730.4 669.7 L727.5 669.1 L724.6 668.5 L721.7 667.9 L718.7 667.3 L715.8 666.8 L712.9 666.4 L710.0 665.9 L707.1 665.6 L704.1 665.2 L701.2 665.0 L698.3 664.7 L695.3 664.5 L692.4 664.3 L689.4 664.2 L686.5 664.1 L683.5 664.0 L680.6 664.0 L677.6 664.0 L674.7 664.0 L671.7 664.0 L668.7 664.1 L665.8 664.1 L662.8 664.2 L659.8 664.3 L656.8 664.5 L653.9 664.6 L650.9 664.7 L647.9 664.9 L644.9 665.1 L641.9 665.2 L638.9 665.4 L635.9 665.6 L633.0 665.7 L630.0 665.9 L627.0 666.0 L624.0 666.2 L621.0 666.3 L618.0 666.4 L615.0 666.6 L612.0 666.7 L609.0 666.7 L606.0 666.8 L603.0 666.8 L600.0 666.8 L597.0 666.8 L594.0 666.8 L591.0 666.7 L588.0 666.6 L585.0 666.5 L582.0 666.4 L579.0 666.2 L576.0 665.9 L573.0 665.6 L570.1 665.3 L567.1 664.9 L564.1 664.5 L561.1 664.1 L558.1 663.6 L555.1 663.0"/><use href="#cc4262b" transform="translate(1.50 0)"/></g>
<path d="M245.5 28.0 H2309.2 M245.5 1604.0 H2309.2" fill="none" stroke="#1e1e1e" stroke-width="5.5"/>
<path d="M248.5 25.2 V1606.8 M2306.0 25.2 V1606.8" fill="none" stroke="#1e1e1e" stroke-width="6.4"/>
<path d="M220 134.0 H248.5 M220 344.0 H248.5 M220 554.0 H248.5 M220 764.0 H248.5 M220 974.0 H248.5 M220 1184.0 H248.5 M220 1394.0 H248.5 M220 1604.0 H248.5 M233 29.0 H248.5 M233 239.0 H248.5 M233 449.0 H248.5 M233 659.0 H248.5 M233 869.0 H248.5 M233 1079.0 H248.5 M233 1289.0 H248.5 M233 1499.0 H248.5" fill="none" stroke="#1e1e1e" stroke-width="5.5"/>
<path d="M364.0 1604.0 V1631.5 M844.2 1604.0 V1631.5 M1324.3 1604.0 V1631.5 M1804.5 1604.0 V1631.5 M2284.7 1604.0 V1631.5 M604.1 1604.0 V1618.5 M1084.3 1604.0 V1618.5 M1564.4 1604.0 V1618.5 M2044.6 1604.0 V1618.5" fill="none" stroke="#1e1e1e" stroke-width="6"/>
<text transform="translate(204.5 148.5) scale(0.93 1)" text-anchor="end" class="tl">-1</text>
<text transform="translate(204.5 358.5) scale(0.93 1)" text-anchor="end" class="tl">-2</text>
<text transform="translate(204.5 568.5) scale(0.93 1)" text-anchor="end" class="tl">-3</text>
<text transform="translate(204.5 778.5) scale(0.93 1)" text-anchor="end" class="tl">-4</text>
<text transform="translate(204.5 988.5) scale(0.93 1)" text-anchor="end" class="tl">-5</text>
<text transform="translate(204.5 1198.5) scale(0.93 1)" text-anchor="end" class="tl">-6</text>
<text transform="translate(204.5 1408.5) scale(0.93 1)" text-anchor="end" class="tl">-7</text>
<text transform="translate(204.5 1618.5) scale(0.93 1)" text-anchor="end" class="tl">-8</text>
<text transform="translate(363.0 1686.5) scale(0.93 1)" text-anchor="middle" class="tl">-1.0</text>
<text transform="translate(843.2 1686.5) scale(0.93 1)" text-anchor="middle" class="tl">-0.5</text>
<text transform="translate(1323.3 1686.5) scale(0.93 1)" text-anchor="middle" class="tl">0.0</text>
<text transform="translate(1803.5 1686.5) scale(0.93 1)" text-anchor="middle" class="tl">0.5</text>
<text transform="translate(2283.7 1686.5) scale(0.93 1)" text-anchor="middle" class="tl">1.0</text>
<line x1="292" y1="106" x2="437" y2="106" stroke="#c4262b" stroke-width="6.5"/>
<line x1="292" y1="181" x2="437" y2="181" stroke="#000000" stroke-width="6.5"/>
<text transform="translate(451.5 127.5) scale(0.985 1)" class="lg">Mo0 coating</text>
<text transform="translate(451.5 204.5) scale(0.985 1)" class="lg">Mo0</text>
<text transform="translate(85 1022) rotate(-90)" class="at" letter-spacing="1.0">log(i)(A/cm<tspan dy="-33" font-size="38">2</tspan><tspan dy="33">)</tspan></text>
<text x="1174.5" y="1774" class="at" letter-spacing="1">E(V<tspan dy="26" font-size="38">SCE</tspan><tspan dy="-26">)</tspan></text>
</g>
</svg>
</body></html>
